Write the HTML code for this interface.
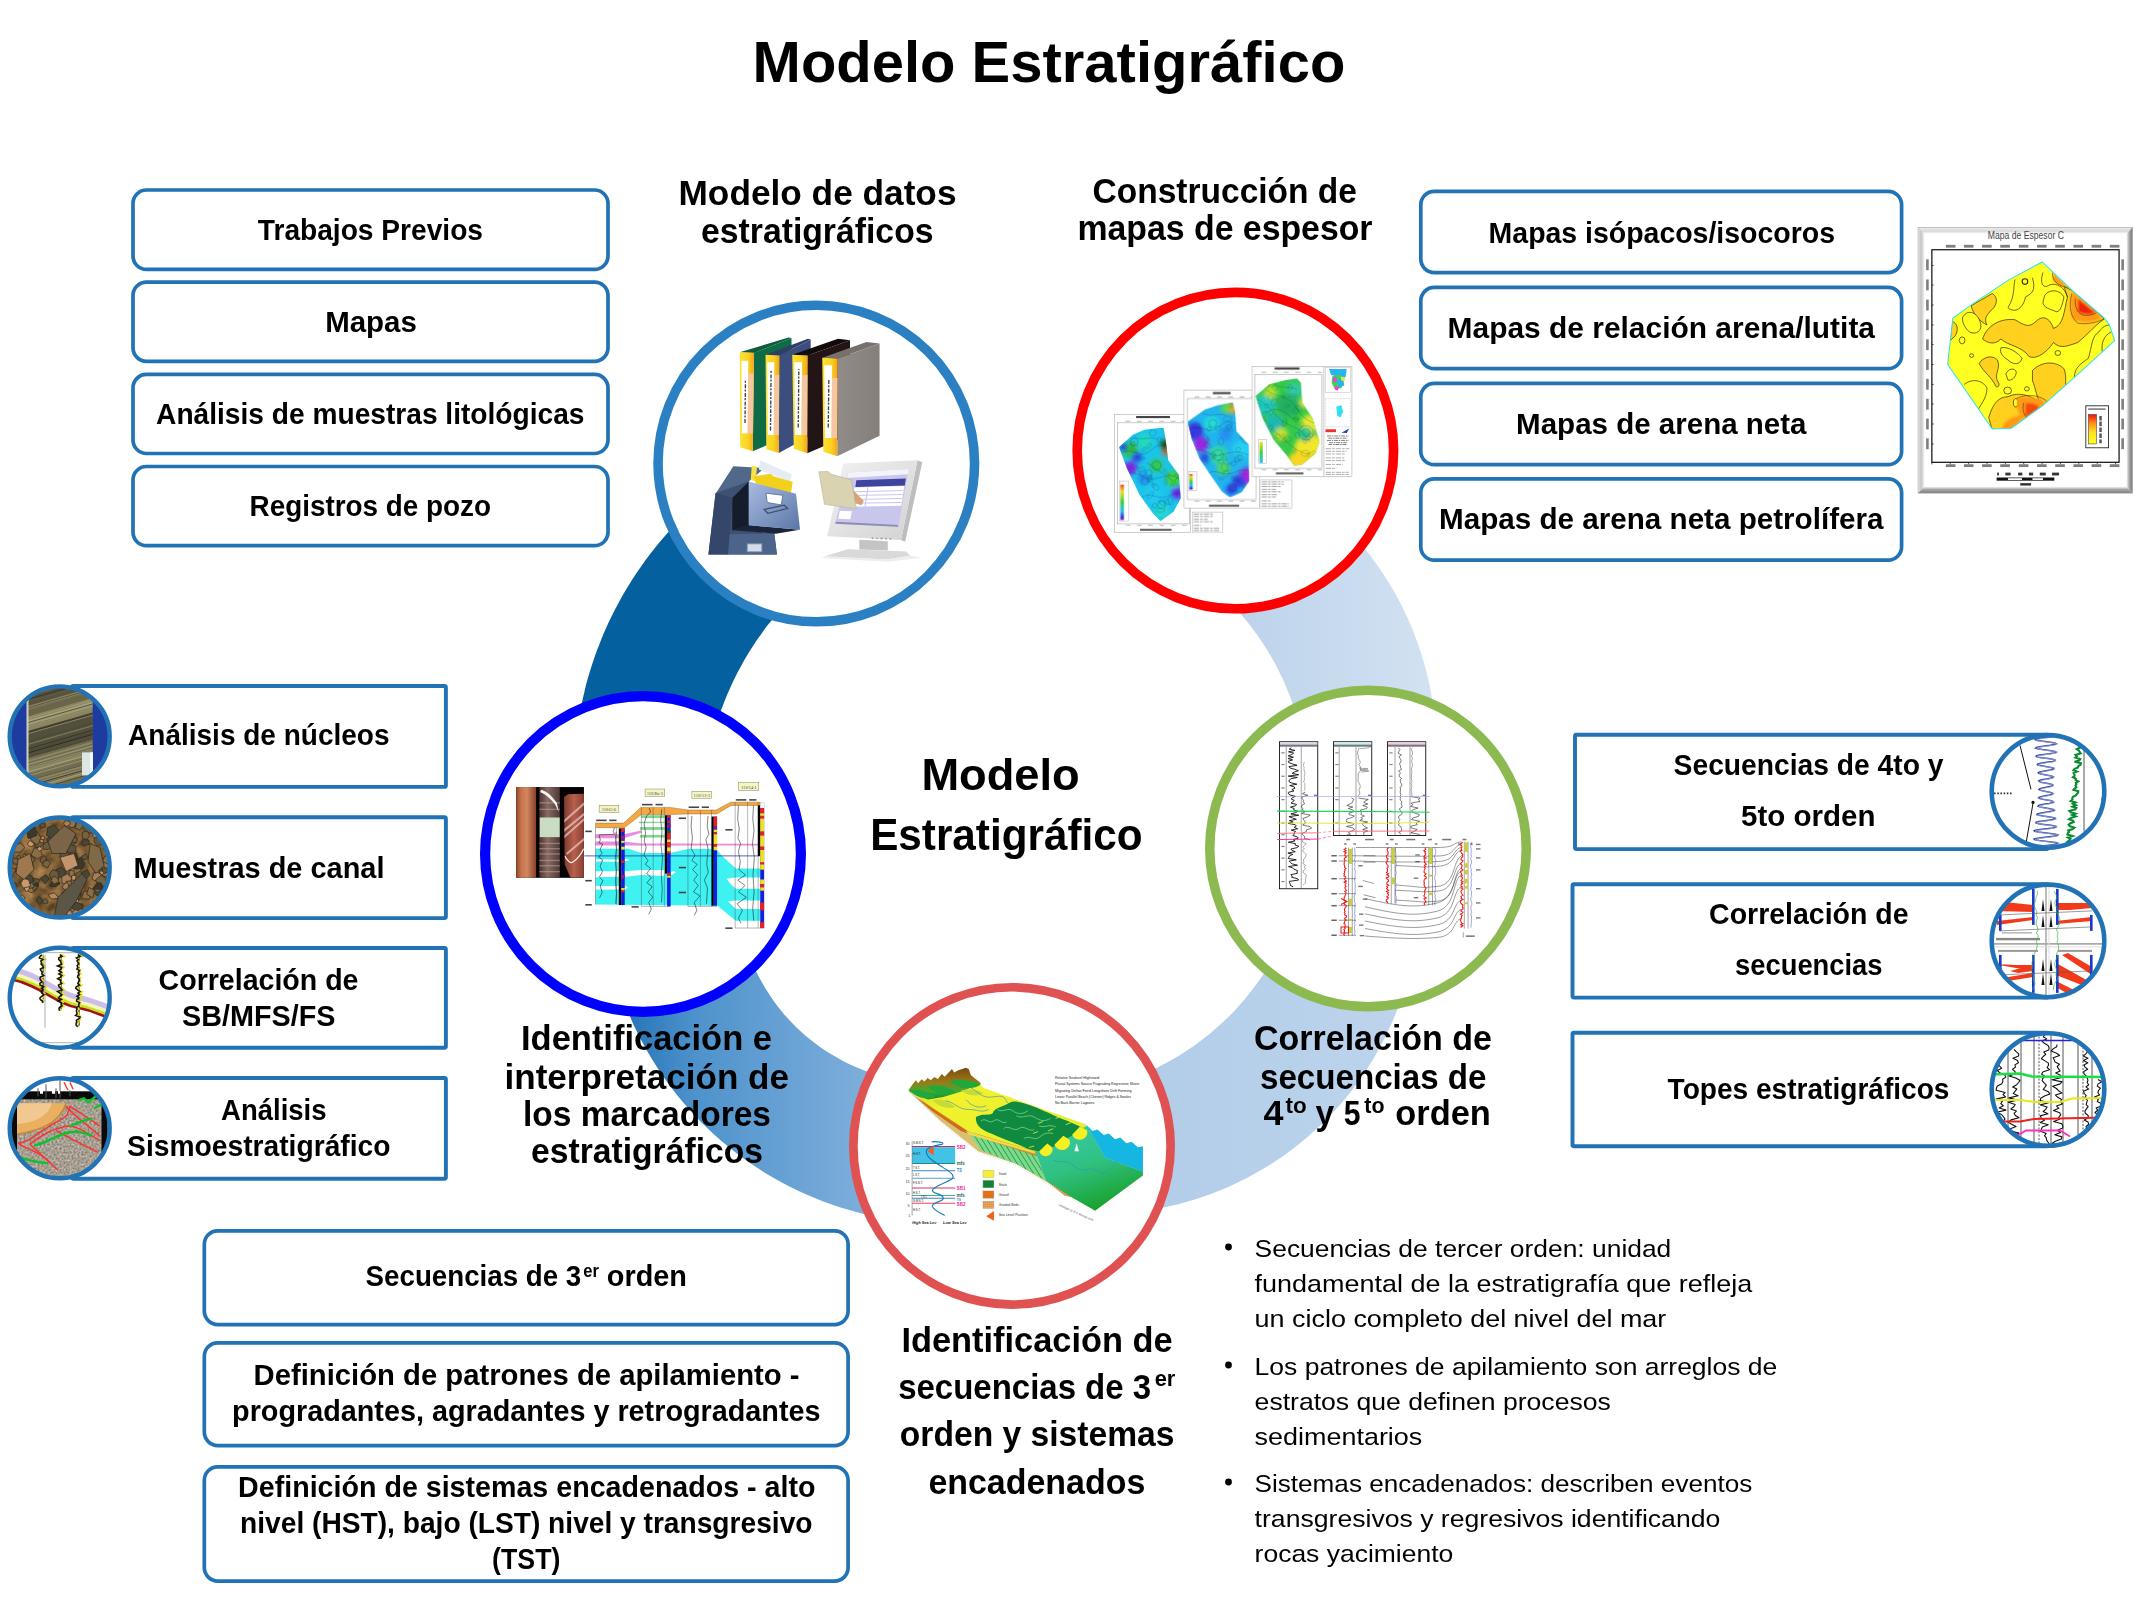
<!DOCTYPE html>
<html lang="es"><head><meta charset="utf-8"><title>Modelo Estratigráfico</title>
<style>
html,body{margin:0;padding:0;background:#fff;}
body{width:2135px;height:1600px;overflow:hidden;font-family:"Liberation Sans",sans-serif;}
svg{display:block;font-family:"Liberation Sans",sans-serif;}
</style></head><body>
<svg width="2135" height="1600" viewBox="0 0 2135 1600">
<defs>
<linearGradient id="g2" gradientUnits="userSpaceOnUse" x1="596" y1="0" x2="880" y2="0"><stop offset="0" stop-color="#1467AE"/><stop offset="0.35" stop-color="#4E92CC"/><stop offset="1" stop-color="#82B1DC"/></linearGradient>
<linearGradient id="g3" gradientUnits="userSpaceOnUse" x1="1140" y1="0" x2="1420" y2="0"><stop offset="0" stop-color="#B2CDE9"/><stop offset="1" stop-color="#BDD4EC"/></linearGradient>
<linearGradient id="g4" gradientUnits="userSpaceOnUse" x1="1240" y1="0" x2="1440" y2="0"><stop offset="0" stop-color="#BDD3EB"/><stop offset="1" stop-color="#D3E2F2"/></linearGradient>
</defs>
<rect width="2135" height="1600" fill="#fff"/>

<path d="M685.5,514.2 L681.2,518.5 L677.0,522.8 L672.8,527.2 L668.7,531.7 L664.7,536.2 L660.8,540.8 L656.9,545.5 L653.1,550.2 L649.4,555.0 L645.8,559.8 L642.3,564.7 L638.8,569.7 L635.4,574.7 L632.1,579.8 L628.9,584.9 L625.8,590.1 L622.7,595.3 L619.8,600.6 L616.9,605.9 L614.1,611.2 L611.4,616.7 L608.8,622.1 L606.3,627.6 L603.8,633.2 L601.5,638.7 L599.3,644.4 L597.1,650.0 L595.0,655.7 L593.1,661.4 L591.2,667.2 L589.4,673.0 L587.7,678.8 L586.1,684.6 L584.7,690.5 L583.3,696.4 L582.0,702.3 L580.8,708.2 L579.7,714.2 L578.6,720.1 L577.7,726.1 L714.8,729.8 L715.8,726.4 L716.9,722.9 L718.0,719.4 L719.1,716.0 L720.3,712.6 L721.5,709.1 L722.8,705.7 L724.1,702.3 L725.4,699.0 L726.8,695.6 L728.2,692.3 L729.7,688.9 L731.2,685.6 L732.7,682.3 L734.3,679.1 L735.9,675.8 L737.5,672.6 L739.2,669.4 L741.0,666.2 L742.7,663.0 L744.5,659.8 L746.3,656.7 L748.2,653.6 L750.1,650.5 L752.0,647.4 L754.0,644.4 L756.0,641.3 L758.1,638.3 L760.2,635.4 L762.3,632.4 L764.4,629.5 L766.6,626.6 L768.8,623.7 L771.1,620.9 L773.3,618.0 L775.7,615.2 L778.0,612.5 L780.4,609.7 L782.8,607.0 L785.2,604.3 Z" fill="#04609E"/>
<path d="M620.5,992.0 L623.6,1000.6 L626.9,1009.1 L630.4,1017.5 L634.1,1025.9 L638.1,1034.1 L642.3,1042.2 L646.7,1050.2 L651.3,1058.1 L656.1,1065.8 L661.1,1073.4 L666.4,1080.9 L671.8,1088.2 L677.4,1095.4 L683.2,1102.5 L689.2,1109.4 L695.3,1116.1 L701.7,1122.7 L708.2,1129.0 L714.9,1135.2 L721.7,1141.3 L728.7,1147.1 L735.9,1152.8 L743.2,1158.2 L750.7,1163.5 L758.3,1168.6 L766.0,1173.4 L773.8,1178.1 L781.8,1182.5 L789.9,1186.8 L798.1,1190.8 L806.4,1194.6 L814.8,1198.1 L823.3,1201.5 L831.8,1204.6 L840.5,1207.5 L849.2,1210.1 L858.0,1212.6 L866.9,1214.8 L875.8,1216.7 L884.7,1218.4 L879.2,1075.4 L874.9,1074.1 L870.7,1072.7 L866.5,1071.3 L862.3,1069.7 L858.2,1068.0 L854.1,1066.3 L850.0,1064.4 L846.0,1062.5 L842.1,1060.5 L838.2,1058.3 L834.3,1056.1 L830.5,1053.8 L826.7,1051.5 L823.0,1049.0 L819.3,1046.5 L815.7,1043.8 L812.2,1041.1 L808.7,1038.3 L805.3,1035.5 L802.0,1032.5 L798.7,1029.5 L795.5,1026.4 L792.4,1023.3 L789.3,1020.0 L786.3,1016.7 L783.4,1013.4 L780.6,1009.9 L777.8,1006.4 L775.1,1002.9 L772.5,999.2 L770.0,995.6 L767.6,991.8 L765.2,988.1 L763.0,984.2 L760.8,980.3 L758.7,976.4 L756.7,972.4 L754.8,968.4 L753.0,964.3 L751.3,960.2 Z" fill="url(#g2)"/>
<path d="M1140.8,1211.3 L1150.0,1210.0 L1159.0,1208.4 L1168.1,1206.5 L1177.1,1204.4 L1186.0,1202.1 L1194.8,1199.4 L1203.6,1196.6 L1212.3,1193.4 L1220.9,1190.1 L1229.4,1186.4 L1237.7,1182.6 L1246.0,1178.5 L1254.1,1174.1 L1262.1,1169.5 L1270.0,1164.7 L1277.7,1159.7 L1285.3,1154.4 L1292.7,1148.9 L1300.0,1143.2 L1307.1,1137.3 L1314.0,1131.2 L1320.8,1124.9 L1327.3,1118.4 L1333.7,1111.8 L1339.9,1104.9 L1345.8,1097.9 L1351.6,1090.7 L1357.1,1083.3 L1362.5,1075.8 L1367.6,1068.1 L1372.5,1060.2 L1377.1,1052.3 L1381.6,1044.2 L1385.7,1036.0 L1389.7,1027.6 L1393.4,1019.2 L1396.9,1010.6 L1400.1,1002.0 L1403.0,993.2 L1405.7,984.4 L1272.9,958.7 L1270.6,962.6 L1268.3,966.5 L1265.9,970.4 L1263.4,974.2 L1260.8,978.0 L1258.2,981.7 L1255.6,985.4 L1252.8,989.0 L1250.0,992.6 L1247.2,996.2 L1244.3,999.7 L1241.3,1003.1 L1238.3,1006.5 L1235.2,1009.9 L1232.1,1013.2 L1228.9,1016.4 L1225.6,1019.6 L1222.3,1022.7 L1219.0,1025.8 L1215.5,1028.8 L1212.1,1031.8 L1208.6,1034.7 L1205.0,1037.5 L1201.4,1040.3 L1197.8,1043.0 L1194.1,1045.7 L1190.3,1048.3 L1186.6,1050.8 L1182.7,1053.3 L1178.9,1055.7 L1175.0,1058.0 L1171.0,1060.3 L1167.0,1062.5 L1163.0,1064.6 L1158.9,1066.7 L1154.9,1068.7 L1150.7,1070.6 L1146.6,1072.4 L1142.4,1074.2 L1138.2,1075.9 Z" fill="url(#g3)"/>
<path d="M1434.6,718.8 L1434.1,713.7 L1433.5,708.5 L1432.7,703.4 L1431.9,698.4 L1431.1,693.3 L1430.1,688.2 L1429.1,683.2 L1427.9,678.1 L1426.7,673.1 L1425.5,668.1 L1424.1,663.2 L1422.7,658.2 L1421.1,653.3 L1419.5,648.4 L1417.9,643.5 L1416.1,638.7 L1414.3,633.9 L1412.4,629.1 L1410.4,624.3 L1408.3,619.6 L1406.2,614.9 L1403.9,610.3 L1401.7,605.6 L1399.3,601.1 L1396.9,596.5 L1394.3,592.0 L1391.8,587.6 L1389.1,583.1 L1386.4,578.8 L1383.6,574.4 L1380.7,570.1 L1377.8,565.9 L1374.8,561.7 L1371.7,557.6 L1368.6,553.5 L1365.4,549.4 L1362.1,545.4 L1358.8,541.5 L1355.4,537.6 L1352.0,533.8 L1229.0,601.4 L1231.4,603.9 L1233.8,606.4 L1236.2,608.9 L1238.5,611.5 L1240.8,614.1 L1243.0,616.8 L1245.3,619.4 L1247.5,622.1 L1249.6,624.8 L1251.7,627.6 L1253.8,630.4 L1255.9,633.2 L1257.9,636.0 L1259.9,638.9 L1261.8,641.7 L1263.7,644.6 L1265.6,647.6 L1267.4,650.5 L1269.2,653.5 L1271.0,656.5 L1272.7,659.5 L1274.4,662.5 L1276.0,665.6 L1277.6,668.7 L1279.2,671.8 L1280.7,674.9 L1282.2,678.0 L1283.7,681.2 L1285.1,684.4 L1286.4,687.6 L1287.7,690.8 L1289.0,694.0 L1290.3,697.3 L1291.5,700.5 L1292.6,703.8 L1293.8,707.1 L1294.8,710.4 L1295.9,713.7 L1296.9,717.0 L1297.8,720.4 Z" fill="url(#g4)"/>
<circle cx="816.3" cy="463.6" r="158.25" fill="#fff" stroke="#2A80C2" stroke-width="9.5"/>
<circle cx="1235.4" cy="450.6" r="158.20" fill="#fff" stroke="#FE0000" stroke-width="9.6"/>
<circle cx="643" cy="854" r="157.90" fill="#fff" stroke="#0000FF" stroke-width="10.2"/>
<circle cx="1368" cy="848.5" r="158.25" fill="#fff" stroke="#8CB950" stroke-width="9.5"/>
<circle cx="1012" cy="1145.9" r="158.65" fill="#fff" stroke="#E05252" stroke-width="8.7"/>
<g transform="translate(700,330) scale(0.15)">
<defs>
<linearGradient id="tlDr" x1="0" y1="0" x2="1" y2="1"><stop offset="0" stop-color="#A9BCE0"/><stop offset="1" stop-color="#5A76A8"/></linearGradient>
<linearGradient id="tlGr" x1="0" y1="0" x2="1" y2="0"><stop offset="0" stop-color="#918C88"/><stop offset="1" stop-color="#857F7C"/></linearGradient>
<linearGradient id="tlSp" x1="0" y1="0" x2="1" y2="0"><stop offset="0" stop-color="#FBE23A"/><stop offset="0.6" stop-color="#F9D21E"/><stop offset="1" stop-color="#F4A21F"/></linearGradient>
<linearGradient id="tlMon" x1="0" y1="0" x2="1" y2="1"><stop offset="0" stop-color="#F2F2F2"/><stop offset="1" stop-color="#D2D2D2"/></linearGradient>
</defs>
<!-- binder 1 green -->
<polygon points="265,148 590,50 610,54 360,153" fill="#0E5C3A"/>
<polygon points="360,152 610,54 610,700 352,808" fill="#0F6B45"/>
<polygon points="265,148 360,152 352,808 268,782" fill="url(#tlSp)"/>
<polygon points="276,205 322,205 318,690 280,690" fill="#fff"/>
<polygon points="322,290 356,290 352,690 318,690" fill="#F4C7A2"/>
<!-- binder 2 blue -->
<polygon points="437,165 720,58 738,64 530,170" fill="#2F3E66"/>
<polygon points="530,170 738,64 738,705 525,820" fill="#3C4E7E"/>
<polygon points="437,165 530,170 525,820 442,795" fill="url(#tlSp)"/>
<polygon points="448,215 495,215 492,700 452,700" fill="#fff"/>
<polygon points="495,300 528,300 525,700 492,700" fill="#F4C7A2"/>
<!-- binder 3 black -->
<polygon points="615,165 920,58 1000,68 718,170" fill="#120B0C"/>
<polygon points="718,170 1000,68 1000,700 715,822" fill="#231416"/>
<polygon points="615,165 718,170 715,822 625,792" fill="url(#tlSp)"/>
<polygon points="628,215 680,215 677,700 634,700" fill="#fff"/>
<polygon points="680,300 716,300 713,700 677,700" fill="#F4C7A2"/>
<!-- binder 4 gray -->
<polygon points="815,185 1110,80 1197,90 918,190" fill="#77716E"/>
<polygon points="918,190 1197,90 1197,705 915,842" fill="url(#tlGr)"/>
<polygon points="815,185 918,190 915,842 822,812" fill="url(#tlSp)"/>
<polygon points="828,235 880,235 877,720 834,720" fill="#fff"/>
<polygon points="880,320 916,320 913,720 877,720" fill="#F4C7A2"/>
<!-- spine text (illegible script) -->
<g stroke="#222" stroke-width="9" stroke-dasharray="26 10 14 8" fill="none" opacity="0.85">
<line x1="300" y1="620" x2="303" y2="330"/><line x1="470" y1="670" x2="474" y2="270"/><line x1="655" y1="650" x2="659" y2="260"/><line x1="855" y1="650" x2="859" y2="330"/>
</g>
<!-- cabinet -->
<polygon points="105,1090 222,908 430,920 325,1010" fill="#526889"/>
<polygon points="56,1497 104,1086 326,1006 326,1340 495,1355 513,1497" fill="#3D5173"/>
<polygon points="215,1120 325,1010 325,1305 215,1335" fill="#151C2C"/>
<polygon points="187,1362 495,1355 513,1497 180,1497" fill="#4C638A"/>
<polygon points="56,1497 104,1086 217,1118 187,1497" fill="#34476A"/>
<rect x="315" y="1426" width="97" height="52" fill="#D4DCEA" stroke="#8A9BB8" stroke-width="6"/>
<!-- papers/folders -->
<polygon points="400,868 612,962 600,1010 392,930" fill="#E6ECF4"/>
<polygon points="345,905 380,912 372,1010 338,1000" fill="#F7E04A"/>
<polygon points="358,975 470,958 490,975 618,1012 606,1095 372,1022" fill="#F1D11C"/>
<!-- open drawer -->
<polygon points="215,1335 325,1300 665,1332 505,1358" fill="#1B2438"/>
<polygon points="325,1010 640,1092 667,1332 325,1302" fill="url(#tlDr)"/>
<polygon points="440,1088 552,1102 542,1166 448,1150" fill="#fff" stroke="#5F7299" stroke-width="6"/>
<polygon points="428,1196 562,1168 584,1190 452,1222" fill="none" stroke="#3E4F70" stroke-width="9"/>
<!-- monitor -->
<polygon points="1450,868 1482,882 1368,1412 1340,1400" fill="#BEBEBE"/>
<polygon points="955,890 1450,868 1340,1400 848,1375" fill="url(#tlMon)"/>
<polygon points="985,950 1392,926 1322,1312 902,1292" fill="#C9C6EE"/>
<polygon points="985,950 1392,926 1387,962 980,986" fill="#F3F3FA"/>
<polygon points="1042,1002 1372,990 1366,1036 1036,1046" fill="#3E43A0"/>
<polygon points="1030,1050 1362,1040 1342,1172 1012,1178" fill="#fff"/>
<g stroke="#C9C6EE" stroke-width="7"><line x1="1030" y1="1078" x2="1356" y2="1070"/><line x1="1026" y1="1104" x2="1352" y2="1097"/><line x1="1022" y1="1130" x2="1348" y2="1124"/><line x1="1018" y1="1155" x2="1344" y2="1150"/><line x1="1120" y1="1048" x2="1100" y2="1176"/></g>
<polygon points="932,1205 1012,1208 1002,1262 922,1258" fill="#fff"/>
<polygon points="905,1278 1322,1300 1320,1312 902,1292" fill="#8E8CB0"/>
<!-- folder + hand -->
<polygon points="985,1078 1022,1068 1092,1140 1076,1168 1028,1152" fill="#D7A17A"/>
<polygon points="792,945 856,944 872,960 1010,1000 1042,1192 830,1162" fill="#D9D3B2" stroke="#B9B392" stroke-width="4"/>
<!-- buttons -->
<g fill="#9A9A9A"><circle cx="1150" cy="1388" r="6"/><circle cx="1180" cy="1389" r="6"/><circle cx="1210" cy="1390" r="7"/><circle cx="1240" cy="1391" r="6"/><circle cx="1270" cy="1392" r="6"/></g>
<!-- stand -->
<polygon points="1062,1398 1252,1408 1252,1470 1062,1464" fill="#C4C4C4"/>
<polygon points="985,1462 1375,1476 1400,1505 1240,1530 830,1508" fill="#D9D9D9"/>
<polygon points="830,1508 1240,1530 1400,1505 1480,1518 1250,1545 815,1520" fill="#EDEDED"/>
</g>

<g transform="translate(1100,350) scale(0.13125)">
<defs>
<filter id="trB" x="-20%" y="-20%" width="140%" height="140%"><feGaussianBlur stdDeviation="18"/></filter>
<linearGradient id="trRain" x1="0" y1="0" x2="0" y2="1"><stop offset="0" stop-color="#F0401A"/><stop offset="0.2" stop-color="#F0E020"/><stop offset="0.5" stop-color="#30D040"/><stop offset="0.75" stop-color="#20C0F0"/><stop offset="0.92" stop-color="#3030E0"/><stop offset="1" stop-color="#A020D0"/></linearGradient>
<linearGradient id="trRain2" x1="0" y1="0" x2="0" y2="1"><stop offset="0" stop-color="#F0E020"/><stop offset="0.5" stop-color="#40D040"/><stop offset="1" stop-color="#20C8F0"/></linearGradient>
<clipPath id="trC1"><path d="M145,740 L250,645 L340,608 L482,590 L497,660 L520,840 L600,950 L616,1130 L560,1232 L460,1302 L400,1240 L300,1100 L205,900 Z"/></clipPath>
<clipPath id="trC2"><path d="M668,545 L800,452 L900,420 L1012,400 L1030,480 L1040,620 L1132,720 L1136,1000 L1080,1082 L990,1122 L930,1080 L840,950 L760,830 L700,680 Z"/></clipPath>
<clipPath id="trC3"><path d="M1185,350 L1290,262 L1400,232 L1500,215 L1530,250 L1540,400 L1620,520 L1672,700 L1640,790 L1540,872 L1480,882 L1420,800 L1320,680 L1240,520 Z"/></clipPath>
</defs>
<!-- sheet 1 -->
<rect x="110" y="490" width="580" height="900" fill="#fff" stroke="#B5B5B5" stroke-width="5"/>
<rect x="135" y="555" width="545" height="770" fill="#fff" stroke="#999" stroke-width="4"/>
<rect x="275" y="503" width="258" height="16" fill="#444"/>
<g stroke="#BBB" stroke-width="8" stroke-dasharray="36 50"><line x1="195" y1="543" x2="680" y2="543"/><line x1="195" y1="1336" x2="680" y2="1336"/></g>
<rect x="305" y="1362" width="240" height="16" fill="#666"/>
<g clip-path="url(#trC1)"><rect x="120" y="570" width="520" height="760" fill="#1CC4EA"/>
<g filter="url(#trB)"><circle cx="230" cy="760" r="60" fill="#30C040"/><circle cx="500" cy="720" r="40" fill="#205010"/><circle cx="500" cy="780" r="26" fill="#E06020"/><circle cx="230" cy="900" r="50" fill="#8020E0"/><circle cx="280" cy="820" r="40" fill="#2850E0"/><circle cx="560" cy="980" r="60" fill="#40D040"/><circle cx="430" cy="880" r="50" fill="#30C850"/><circle cx="590" cy="1090" r="45" fill="#7020E0"/><circle cx="340" cy="700" r="60" fill="#20D8C0"/><circle cx="400" cy="1100" r="70" fill="#20C8F0"/><circle cx="470" cy="1230" r="60" fill="#20D8D0"/><circle cx="330" cy="980" r="45" fill="#2090F0"/><circle cx="180" cy="740" r="30" fill="#2040D0"/></g>
<g fill="none" stroke="#062A50" stroke-width="2.5" opacity="0.55"><ellipse cx="226" cy="1076" rx="25" ry="17" transform="rotate(39 226 1076)"/><ellipse cx="515" cy="1157" rx="22" ry="17" transform="rotate(42 515 1157)"/><ellipse cx="151" cy="856" rx="24" ry="9" transform="rotate(143 151 856)"/><ellipse cx="257" cy="761" rx="11" ry="26" transform="rotate(133 257 761)"/><ellipse cx="553" cy="1025" rx="11" ry="14" transform="rotate(90 553 1025)"/><ellipse cx="203" cy="1257" rx="19" ry="11" transform="rotate(147 203 1257)"/><ellipse cx="207" cy="1240" rx="21" ry="18" transform="rotate(62 207 1240)"/><ellipse cx="373" cy="729" rx="11" ry="24" transform="rotate(42 373 729)"/><ellipse cx="509" cy="744" rx="33" ry="24" transform="rotate(136 509 744)"/><ellipse cx="501" cy="1001" rx="28" ry="10" transform="rotate(86 501 1001)"/><ellipse cx="530" cy="739" rx="32" ry="24" transform="rotate(74 530 739)"/><ellipse cx="318" cy="911" rx="19" ry="26" transform="rotate(70 318 911)"/><ellipse cx="162" cy="664" rx="27" ry="26" transform="rotate(89 162 664)"/><ellipse cx="376" cy="980" rx="28" ry="12" transform="rotate(110 376 980)"/><ellipse cx="406" cy="1030" rx="14" ry="11" transform="rotate(63 406 1030)"/><ellipse cx="576" cy="839" rx="24" ry="14" transform="rotate(19 576 839)"/><ellipse cx="180" cy="1161" rx="29" ry="15" transform="rotate(123 180 1161)"/><ellipse cx="461" cy="1220" rx="33" ry="15" transform="rotate(178 461 1220)"/><ellipse cx="592" cy="1007" rx="31" ry="17" transform="rotate(68 592 1007)"/><ellipse cx="264" cy="1205" rx="14" ry="9" transform="rotate(145 264 1205)"/><ellipse cx="506" cy="933" rx="30" ry="9" transform="rotate(46 506 933)"/><ellipse cx="283" cy="889" rx="14" ry="9" transform="rotate(61 283 889)"/><ellipse cx="564" cy="1279" rx="28" ry="17" transform="rotate(45 564 1279)"/><ellipse cx="591" cy="963" rx="27" ry="9" transform="rotate(38 591 963)"/><ellipse cx="536" cy="1149" rx="31" ry="19" transform="rotate(77 536 1149)"/><ellipse cx="417" cy="1186" rx="17" ry="18" transform="rotate(50 417 1186)"/><ellipse cx="503" cy="607" rx="26" ry="25" transform="rotate(4 503 607)"/><ellipse cx="423" cy="1044" rx="30" ry="19" transform="rotate(46 423 1044)"/><ellipse cx="337" cy="1262" rx="32" ry="10" transform="rotate(17 337 1262)"/><ellipse cx="193" cy="617" rx="21" ry="11" transform="rotate(156 193 617)"/><ellipse cx="451" cy="687" rx="23" ry="14" transform="rotate(89 451 687)"/><ellipse cx="251" cy="715" rx="14" ry="15" transform="rotate(128 251 715)"/><ellipse cx="403" cy="632" rx="27" ry="24" transform="rotate(139 403 632)"/><ellipse cx="514" cy="605" rx="21" ry="9" transform="rotate(138 514 605)"/><ellipse cx="231" cy="1091" rx="16" ry="21" transform="rotate(56 231 1091)"/><ellipse cx="169" cy="868" rx="17" ry="24" transform="rotate(53 169 868)"/><ellipse cx="381" cy="979" rx="33" ry="10" transform="rotate(108 381 979)"/><ellipse cx="384" cy="1107" rx="33" ry="14" transform="rotate(126 384 1107)"/><ellipse cx="392" cy="987" rx="12" ry="23" transform="rotate(176 392 987)"/><ellipse cx="313" cy="819" rx="34" ry="10" transform="rotate(14 313 819)"/><ellipse cx="184" cy="1162" rx="28" ry="16" transform="rotate(112 184 1162)"/><ellipse cx="159" cy="1045" rx="21" ry="17" transform="rotate(70 159 1045)"/><ellipse cx="335" cy="756" rx="11" ry="16" transform="rotate(44 335 756)"/><ellipse cx="474" cy="1164" rx="27" ry="16" transform="rotate(43 474 1164)"/><ellipse cx="327" cy="936" rx="25" ry="25" transform="rotate(15 327 936)"/><ellipse cx="371" cy="939" rx="27" ry="24" transform="rotate(140 371 939)"/></g><g fill="none" stroke="#062A50" stroke-width="3" opacity="0.6"><path d="M170,780 C240,740 300,820 360,780 S460,700 500,740"/><path d="M220,940 C300,920 340,1000 420,980 S540,940 610,980"/><path d="M320,1120 C380,1080 440,1140 500,1120 S580,1080 610,1100"/><circle cx="430" cy="880" r="34"/><circle cx="340" cy="1000" r="26"/><circle cx="260" cy="700" r="30"/><path d="M360,860 C420,900 480,940 560,1000"/><path d="M260,660 C320,700 380,650 440,680"/><circle cx="470" cy="1180" r="30"/></g></g>
<rect x="148" y="1000" width="68" height="305" fill="#fff" stroke="#999" stroke-width="3"/><rect x="156" y="1025" width="26" height="270" fill="url(#trRain)"/>
<!-- tb1 -->
<rect x="705" y="1235" width="230" height="155" fill="#fff" stroke="#AAA" stroke-width="4"/>
<g stroke="#888" stroke-width="6" stroke-dasharray="40 8 20 8"><line x1="715" y1="1250" x2="860" y2="1250"/><line x1="715" y1="1268" x2="860" y2="1268"/><line x1="715" y1="1290" x2="820" y2="1290"/><line x1="715" y1="1308" x2="860" y2="1308"/><line x1="715" y1="1336" x2="770" y2="1336"/><line x1="715" y1="1358" x2="910" y2="1358"/><line x1="715" y1="1375" x2="910" y2="1375"/></g>
<!-- sheet 2 -->
<rect x="640" y="305" width="575" height="900" fill="#fff" stroke="#B5B5B5" stroke-width="5"/>
<rect x="665" y="370" width="525" height="770" fill="#fff" stroke="#999" stroke-width="4"/>
<rect x="860" y="320" width="135" height="16" fill="#444"/>
<g stroke="#BBB" stroke-width="8" stroke-dasharray="36 50"><line x1="720" y1="358" x2="1190" y2="358"/><line x1="720" y1="1152" x2="1190" y2="1152"/></g>
<rect x="830" y="1178" width="230" height="16" fill="#666"/>
<g clip-path="url(#trC2)"><rect x="640" y="380" width="520" height="760" fill="#22B4EE"/>
<g filter="url(#trB)"><circle cx="720" cy="620" r="70" fill="#3838E0"/><circle cx="770" cy="720" r="55" fill="#A020E0"/><circle cx="1010" cy="440" r="45" fill="#F0A020"/><circle cx="960" cy="440" r="40" fill="#60D840"/><circle cx="1120" cy="960" r="60" fill="#B020E0"/><circle cx="1060" cy="1000" r="50" fill="#3040E0"/><circle cx="900" cy="800" r="70" fill="#30D8A0"/><circle cx="940" cy="900" r="50" fill="#50D860"/><circle cx="850" cy="560" r="60" fill="#25D8D8"/><circle cx="1000" cy="1060" r="40" fill="#3038E0"/><circle cx="1080" cy="760" r="70" fill="#28D0F0"/><circle cx="800" cy="820" r="40" fill="#2850E0"/><circle cx="960" cy="640" r="50" fill="#2890F0"/></g>
<g fill="none" stroke="#062A50" stroke-width="2.5" opacity="0.55"><ellipse cx="962" cy="941" rx="26" ry="23" transform="rotate(126 962 941)"/><ellipse cx="987" cy="582" rx="32" ry="15" transform="rotate(111 987 582)"/><ellipse cx="1051" cy="1085" rx="34" ry="8" transform="rotate(56 1051 1085)"/><ellipse cx="820" cy="684" rx="13" ry="18" transform="rotate(14 820 684)"/><ellipse cx="816" cy="1070" rx="28" ry="16" transform="rotate(19 816 1070)"/><ellipse cx="1110" cy="903" rx="15" ry="14" transform="rotate(115 1110 903)"/><ellipse cx="987" cy="593" rx="33" ry="14" transform="rotate(46 987 593)"/><ellipse cx="1060" cy="517" rx="26" ry="12" transform="rotate(108 1060 517)"/><ellipse cx="805" cy="675" rx="33" ry="16" transform="rotate(79 805 675)"/><ellipse cx="958" cy="606" rx="14" ry="15" transform="rotate(49 958 606)"/><ellipse cx="765" cy="1083" rx="11" ry="23" transform="rotate(168 765 1083)"/><ellipse cx="997" cy="423" rx="22" ry="9" transform="rotate(109 997 423)"/><ellipse cx="995" cy="578" rx="10" ry="18" transform="rotate(17 995 578)"/><ellipse cx="819" cy="728" rx="31" ry="15" transform="rotate(24 819 728)"/><ellipse cx="1036" cy="986" rx="23" ry="9" transform="rotate(34 1036 986)"/><ellipse cx="861" cy="796" rx="15" ry="22" transform="rotate(152 861 796)"/><ellipse cx="1096" cy="1028" rx="10" ry="18" transform="rotate(14 1096 1028)"/><ellipse cx="1085" cy="933" rx="28" ry="11" transform="rotate(11 1085 933)"/><ellipse cx="1047" cy="835" rx="25" ry="16" transform="rotate(144 1047 835)"/><ellipse cx="832" cy="599" rx="18" ry="13" transform="rotate(113 832 599)"/><ellipse cx="1081" cy="460" rx="12" ry="17" transform="rotate(122 1081 460)"/><ellipse cx="765" cy="599" rx="11" ry="9" transform="rotate(89 765 599)"/><ellipse cx="986" cy="867" rx="14" ry="10" transform="rotate(168 986 867)"/><ellipse cx="922" cy="696" rx="27" ry="21" transform="rotate(94 922 696)"/><ellipse cx="715" cy="989" rx="15" ry="9" transform="rotate(63 715 989)"/><ellipse cx="920" cy="850" rx="14" ry="21" transform="rotate(89 920 850)"/><ellipse cx="753" cy="1006" rx="29" ry="24" transform="rotate(122 753 1006)"/><ellipse cx="778" cy="954" rx="32" ry="18" transform="rotate(164 778 954)"/><ellipse cx="1117" cy="683" rx="33" ry="25" transform="rotate(143 1117 683)"/><ellipse cx="685" cy="656" rx="25" ry="19" transform="rotate(136 685 656)"/><ellipse cx="971" cy="523" rx="32" ry="18" transform="rotate(159 971 523)"/><ellipse cx="773" cy="1109" rx="23" ry="22" transform="rotate(133 773 1109)"/><ellipse cx="1077" cy="664" rx="12" ry="15" transform="rotate(32 1077 664)"/><ellipse cx="923" cy="980" rx="19" ry="10" transform="rotate(5 923 980)"/><ellipse cx="870" cy="816" rx="11" ry="20" transform="rotate(38 870 816)"/><ellipse cx="728" cy="1059" rx="23" ry="24" transform="rotate(93 728 1059)"/><ellipse cx="735" cy="578" rx="20" ry="20" transform="rotate(139 735 578)"/><ellipse cx="1018" cy="866" rx="16" ry="16" transform="rotate(68 1018 866)"/><ellipse cx="900" cy="596" rx="23" ry="16" transform="rotate(6 900 596)"/><ellipse cx="1050" cy="821" rx="29" ry="21" transform="rotate(132 1050 821)"/><ellipse cx="1127" cy="674" rx="19" ry="8" transform="rotate(120 1127 674)"/><ellipse cx="942" cy="814" rx="34" ry="12" transform="rotate(41 942 814)"/><ellipse cx="1010" cy="979" rx="22" ry="9" transform="rotate(67 1010 979)"/><ellipse cx="1052" cy="760" rx="21" ry="15" transform="rotate(113 1052 760)"/><ellipse cx="949" cy="895" rx="31" ry="22" transform="rotate(67 949 895)"/><ellipse cx="793" cy="957" rx="29" ry="25" transform="rotate(36 793 957)"/></g><g fill="none" stroke="#062A50" stroke-width="3" opacity="0.55"><path d="M690,600 C760,560 820,640 880,600 S980,520 1030,560"/><path d="M720,760 C800,740 840,820 920,800 S1040,760 1130,800"/><path d="M820,940 C880,900 940,960 1000,940 S1080,900 1130,920"/><circle cx="900" cy="800" r="40"/><circle cx="1010" cy="1050" r="28"/><circle cx="1070" cy="820" r="22"/><circle cx="860" cy="560" r="30"/><path d="M780,480 C840,520 900,470 960,500"/></g></g>
<rect x="675" y="925" width="62" height="145" fill="#fff" stroke="#999" stroke-width="3"/><rect x="682" y="945" width="24" height="118" fill="url(#trRain)"/>
<!-- tb2 -->
<rect x="1220" y="990" width="240" height="215" fill="#fff" stroke="#AAA" stroke-width="4"/>
<g stroke="#888" stroke-width="6" stroke-dasharray="40 8 20 8"><line x1="1232" y1="1005" x2="1400" y2="1005"/><line x1="1232" y1="1022" x2="1400" y2="1022"/><line x1="1232" y1="1040" x2="1380" y2="1040"/><line x1="1232" y1="1062" x2="1340" y2="1062"/><line x1="1232" y1="1080" x2="1380" y2="1080"/><line x1="1232" y1="1102" x2="1350" y2="1102"/><line x1="1232" y1="1120" x2="1340" y2="1120"/><line x1="1232" y1="1150" x2="1300" y2="1150"/><line x1="1232" y1="1172" x2="1440" y2="1172"/><line x1="1232" y1="1190" x2="1440" y2="1190"/></g>
<!-- sheet 3 -->
<rect x="1160" y="125" width="760" height="840" fill="#fff" stroke="#B5B5B5" stroke-width="5"/>
<rect x="1180" y="185" width="510" height="715" fill="#fff" stroke="#999" stroke-width="4"/>
<line x1="1705" y1="125" x2="1705" y2="965" stroke="#999" stroke-width="4"/>
<rect x="1330" y="133" width="190" height="16" fill="#444"/>
<g stroke="#BBB" stroke-width="8" stroke-dasharray="36 50"><line x1="1230" y1="170" x2="1690" y2="170"/><line x1="1230" y1="912" x2="1690" y2="912"/></g>
<rect x="1340" y="932" width="210" height="16" fill="#666"/>
<g clip-path="url(#trC3)"><rect x="1150" y="180" width="560" height="740" fill="#36C94A"/>
<g filter="url(#trB)"><circle cx="1260" cy="420" r="80" fill="#22C8C0"/><circle cx="1330" cy="560" r="70" fill="#1FB8B0"/><circle cx="1300" cy="320" r="50" fill="#B8E030"/><circle cx="1600" cy="760" r="120" fill="#F2E62A"/><circle cx="1520" cy="860" r="90" fill="#F6D820"/><circle cx="1600" cy="560" r="70" fill="#E4E830"/><circle cx="1560" cy="640" r="55" fill="#20C890"/><circle cx="1440" cy="420" r="90" fill="#20B060"/><circle cx="1380" cy="640" r="50" fill="#C8E030"/><circle cx="1480" cy="300" r="60" fill="#30C8A0"/><circle cx="1560" cy="400" r="40" fill="#D8E830"/></g>
<g fill="none" stroke="#0A4A2A" stroke-width="2.5" opacity="0.55"><ellipse cx="1590" cy="800" rx="12" ry="14" transform="rotate(114 1590 800)"/><ellipse cx="1267" cy="762" rx="16" ry="20" transform="rotate(53 1267 762)"/><ellipse cx="1300" cy="362" rx="22" ry="21" transform="rotate(39 1300 362)"/><ellipse cx="1516" cy="444" rx="26" ry="15" transform="rotate(35 1516 444)"/><ellipse cx="1265" cy="267" rx="27" ry="15" transform="rotate(22 1265 267)"/><ellipse cx="1605" cy="649" rx="11" ry="21" transform="rotate(107 1605 649)"/><ellipse cx="1404" cy="550" rx="33" ry="15" transform="rotate(115 1404 550)"/><ellipse cx="1492" cy="464" rx="18" ry="22" transform="rotate(114 1492 464)"/><ellipse cx="1410" cy="559" rx="15" ry="22" transform="rotate(4 1410 559)"/><ellipse cx="1496" cy="521" rx="15" ry="19" transform="rotate(105 1496 521)"/><ellipse cx="1240" cy="544" rx="14" ry="22" transform="rotate(59 1240 544)"/><ellipse cx="1351" cy="368" rx="11" ry="11" transform="rotate(27 1351 368)"/><ellipse cx="1487" cy="772" rx="15" ry="10" transform="rotate(96 1487 772)"/><ellipse cx="1253" cy="489" rx="28" ry="12" transform="rotate(126 1253 489)"/><ellipse cx="1448" cy="284" rx="16" ry="19" transform="rotate(17 1448 284)"/><ellipse cx="1294" cy="599" rx="30" ry="17" transform="rotate(119 1294 599)"/><ellipse cx="1204" cy="424" rx="18" ry="24" transform="rotate(64 1204 424)"/><ellipse cx="1561" cy="252" rx="22" ry="24" transform="rotate(139 1561 252)"/><ellipse cx="1467" cy="347" rx="32" ry="9" transform="rotate(174 1467 347)"/><ellipse cx="1557" cy="691" rx="23" ry="11" transform="rotate(61 1557 691)"/><ellipse cx="1505" cy="650" rx="19" ry="22" transform="rotate(10 1505 650)"/><ellipse cx="1332" cy="288" rx="18" ry="22" transform="rotate(136 1332 288)"/><ellipse cx="1269" cy="427" rx="13" ry="20" transform="rotate(80 1269 427)"/><ellipse cx="1307" cy="469" rx="31" ry="16" transform="rotate(124 1307 469)"/><ellipse cx="1489" cy="533" rx="23" ry="15" transform="rotate(36 1489 533)"/><ellipse cx="1427" cy="425" rx="18" ry="11" transform="rotate(164 1427 425)"/><ellipse cx="1396" cy="358" rx="11" ry="12" transform="rotate(156 1396 358)"/><ellipse cx="1355" cy="657" rx="16" ry="20" transform="rotate(81 1355 657)"/><ellipse cx="1539" cy="568" rx="19" ry="13" transform="rotate(107 1539 568)"/><ellipse cx="1583" cy="673" rx="22" ry="14" transform="rotate(160 1583 673)"/><ellipse cx="1589" cy="323" rx="26" ry="22" transform="rotate(122 1589 323)"/><ellipse cx="1644" cy="793" rx="16" ry="26" transform="rotate(59 1644 793)"/><ellipse cx="1375" cy="855" rx="14" ry="15" transform="rotate(113 1375 855)"/><ellipse cx="1326" cy="401" rx="29" ry="19" transform="rotate(134 1326 401)"/><ellipse cx="1563" cy="788" rx="31" ry="23" transform="rotate(176 1563 788)"/><ellipse cx="1430" cy="679" rx="22" ry="25" transform="rotate(118 1430 679)"/><ellipse cx="1398" cy="655" rx="17" ry="10" transform="rotate(70 1398 655)"/><ellipse cx="1263" cy="233" rx="12" ry="16" transform="rotate(137 1263 233)"/><ellipse cx="1222" cy="637" rx="13" ry="17" transform="rotate(53 1222 637)"/><ellipse cx="1405" cy="686" rx="20" ry="15" transform="rotate(131 1405 686)"/></g><g fill="none" stroke="#0A4A2A" stroke-width="3" opacity="0.55"><path d="M1200,380 C1300,420 1340,520 1420,560 S1540,600 1600,700"/><path d="M1260,300 C1340,360 1420,340 1480,420 S1540,520 1640,560"/><path d="M1300,600 C1380,640 1420,720 1500,760 S1580,800 1640,760"/><circle cx="1570" cy="630" r="55"/><circle cx="1570" cy="630" r="30"/><path d="M1240,480 C1300,470 1340,430 1400,470 S1460,540 1520,520"/><path d="M1330,260 C1380,300 1440,270 1500,300"/></g></g>
<rect x="1210" y="680" width="58" height="185" fill="#fff" stroke="#999" stroke-width="3"/><rect x="1216" y="700" width="24" height="160" fill="url(#trRain2)"/>
<!-- info column -->
<rect x="1718" y="135" width="190" height="190" fill="#fff" stroke="#AAA" stroke-width="3"/>
<polygon points="1745,145 1880,145 1870,210 1800,200 1760,190" fill="#27B4F0"/>
<polygon points="1770,200 1820,185 1860,230 1840,290 1790,300 1765,250" fill="#37D84A"/>
<polygon points="1800,225 1850,215 1862,270 1822,285" fill="#27B4F0"/><polygon points="1772,215 1800,200 1806,240 1778,246" fill="#F040E0"/><polygon points="1792,270 1822,280 1812,310 1790,300" fill="#F040E0"/><polygon points="1835,200 1870,215 1860,240 1838,230" fill="#F0E030"/>
<rect x="1718" y="370" width="190" height="215" fill="#fff" stroke="#AAA" stroke-width="3" stroke-dasharray="14 8"/>
<polygon points="1800,430 1840,420 1852,470 1832,515 1808,500" fill="#30E0F0"/>
<rect x="1718" y="604" width="80" height="22" fill="#F03030"/><polygon points="1840,630 1898,598 1880,632" fill="#2040B0"/>
<g stroke="#777" stroke-width="7" stroke-dasharray="30 6 12 6"><line x1="1730" y1="655" x2="1895" y2="655"/><line x1="1740" y1="672" x2="1885" y2="672"/><line x1="1730" y1="689" x2="1895" y2="689"/><line x1="1745" y1="706" x2="1880" y2="706"/><line x1="1740" y1="720" x2="1880" y2="720"/></g>
<g stroke="#999" stroke-width="6" stroke-dasharray="40 8 20 8"><line x1="1720" y1="752" x2="1900" y2="752"/><line x1="1720" y1="772" x2="1880" y2="772"/><line x1="1720" y1="792" x2="1870" y2="792"/><line x1="1720" y1="822" x2="1860" y2="822"/><line x1="1720" y1="842" x2="1870" y2="842"/><line x1="1720" y1="872" x2="1850" y2="872"/><line x1="1720" y1="902" x2="1800" y2="902"/><line x1="1720" y1="932" x2="1895" y2="932"/><line x1="1720" y1="948" x2="1895" y2="948"/></g>
</g>

<g transform="translate(505,770) scale(0.13115)">
<defs>
<linearGradient id="lC1" x1="0" y1="0" x2="1" y2="0"><stop offset="0" stop-color="#8E4526"/><stop offset="0.25" stop-color="#C8754E"/><stop offset="0.55" stop-color="#D08660"/><stop offset="1" stop-color="#8A3F28"/></linearGradient>
<linearGradient id="lC2" x1="0" y1="0" x2="1" y2="0"><stop offset="0" stop-color="#4A3432"/><stop offset="0.4" stop-color="#8A6A62"/><stop offset="1" stop-color="#4E3836"/></linearGradient>
<linearGradient id="lC3" x1="0" y1="0" x2="1" y2="0"><stop offset="0" stop-color="#7E3A30"/><stop offset="0.5" stop-color="#B8604C"/><stop offset="1" stop-color="#8A4034"/></linearGradient>
<clipPath id="lK3"><polygon points="450,205 480,185 602,180 602,822 500,822 455,720"/></clipPath>
</defs>
<!-- core photo -->
<rect x="85" y="130" width="517" height="692" fill="#050303"/>
<rect x="85" y="130" width="152" height="692" fill="url(#lC1)"/>
<rect x="262" y="130" width="156" height="692" fill="url(#lC2)"/>
<g stroke="#B9A9A0" stroke-width="10" opacity="0.55"><line x1="262" y1="560" x2="418" y2="560"/><line x1="262" y1="600" x2="418" y2="600"/><line x1="262" y1="640" x2="418" y2="640"/><line x1="262" y1="690" x2="418" y2="690"/><line x1="262" y1="730" x2="418" y2="730"/><line x1="262" y1="775" x2="418" y2="775"/><line x1="262" y1="250" x2="418" y2="250"/><line x1="262" y1="300" x2="418" y2="300"/></g>
<rect x="265" y="362" width="152" height="150" fill="#C9DCC4"/>
<path d="M268,170 C300,180 340,210 380,260 L410,320 L395,250 C360,200 320,160 275,150 Z" fill="#F4F4F0"/>
<g clip-path="url(#lK3)"><rect x="450" y="170" width="152" height="660" fill="url(#lC3)"/>
<g stroke="#E8C4C0" stroke-width="16" opacity="0.75"><line x1="440" y1="400" x2="610" y2="250"/><line x1="440" y1="520" x2="610" y2="370"/><line x1="440" y1="470" x2="610" y2="330"/><line x1="470" y1="640" x2="610" y2="520"/></g>
<path d="M455,655 C480,700 500,715 520,700 C550,680 580,640 600,600" fill="none" stroke="#F4F0E8" stroke-width="9"/></g>
<!-- correlation panel -->
<polygon points="690,600 940,600 1040,632 1260,632 1395,602 1610,602 1650,650 1760,752 1945,752 1945,1150 1760,1150 1620,1036 690,1026" fill="#3EF2F2"/>
<g fill="#fff"><polygon points="690,680 880,682 940,676 945,690 880,700 690,698"/><polygon points="690,772 940,770 1040,762 1215,762 1215,808 1040,800 940,812 690,818"/><polygon points="690,884 868,884 868,912 690,912"/><polygon points="1262,778 1290,770 1300,782 1270,800"/><polygon points="1690,830 1760,820 1945,820 1945,905 1760,905 1720,870"/><polygon points="1700,1000 1760,995 1945,995 1945,1060 1760,1060"/><polygon points="912,880 940,895 912,912"/></g>
<polygon points="690,405 905,405 1035,285 1260,285 1395,305 1610,305 1720,245 1945,245 1945,270 1725,270 1615,335 1395,335 1260,340 1040,340 910,440 690,440" fill="#F5A742" stroke="#7A5A20" stroke-width="3"/>
<polygon points="690,490 905,490 1040,462 1040,478 905,520 690,520" fill="#E88EE0"/>
<polygon points="690,545 905,545 1040,560 1945,562 1945,576 1040,576 905,576 690,576" fill="#E88EE0"/>
<g fill="#7ED890"><rect x="1040" y="345" width="178" height="22"/><rect x="1020" y="395" width="198" height="10"/><rect x="1030" y="435" width="188" height="22"/><rect x="1030" y="495" width="188" height="20"/></g>
<line x1="605" y1="655" x2="1945" y2="655" stroke="#2233A8" stroke-width="6"/>
<!-- track lines -->
<g stroke="#444" stroke-width="3" fill="none"><path d="M690,440 V1026 M850,440 V1026"/><path d="M1040,285 V1040 M1130,285 V1040 M1215,285 V1040 M1040,1040 H1262"/><path d="M1395,305 V1040 M1490,305 V1040 M1575,305 V1040 M1395,1040 H1615"/><path d="M1755,245 V1205 M1850,245 V1205 M1930,245 V1205 M1755,1205 H1975"/></g>
<!-- log curves -->
<g stroke="#111" stroke-width="4" fill="none" stroke-linejoin="round"><path d="M835,440 l-10,30 12,20 -120,5 10,40 -12,20 30,10 -20,40 15,30 -25,30 30,20 -20,50 18,40 -22,40 25,30 -20,40 15,50 -20,40"/><path d="M848,470 l-6,60 8,70 -10,80 8,90 -6,80 8,90 -6,80"/><path d="M1100,290 l10,30 -30,30 -20,60 12,70 -10,60 14,50 -16,60 30,40 -20,30 40,30 -30,40 36,30 -34,40 40,30 -30,40 34,40 -30,40 20,50 -20,40"/><path d="M1195,300 l-8,80 10,90 -8,100 12,100 -10,120 8,120 -6,100"/><path d="M1425,350 l-6,80 10,90 -10,80 30,50 -24,40 40,30 -34,40 38,40 -30,40 34,40 -36,50 50,30 -44,50 20,60 -20,40"/><path d="M1548,350 l-6,80 12,60 -22,40 16,70 -10,120 12,60 -30,60 24,60 -8,120"/><path d="M1780,270 l-6,100 12,80 -10,70 20,40 -16,60 14,80 -10,60 50,40 -60,40 56,40 -50,50 60,40 -70,50 40,50 -30,60 20,40"/><path d="M1895,270 l-6,100 10,90 -12,100 14,110 -10,130 8,130 -10,120 8,100"/></g>
<!-- well columns -->
<rect x="868" y="445" width="18" height="585" fill="#000"/><rect x="886" y="445" width="27" height="585" fill="#1020E0"/>
<g><rect x="886" y="445" width="27" height="28" fill="#E82020"/><rect x="886" y="500" width="27" height="30" fill="#A01880"/><rect x="886" y="540" width="27" height="16" fill="#F0E020"/><rect x="886" y="585" width="27" height="22" fill="#F0E020"/><rect x="886" y="690" width="27" height="18" fill="#E82020"/><rect x="886" y="800" width="27" height="30" fill="#A01880"/><rect x="886" y="900" width="27" height="18" fill="#F0E020"/><rect x="886" y="918" width="27" height="14" fill="#E82020"/></g>
<rect x="1220" y="345" width="16" height="445" fill="#000"/><rect x="1236" y="345" width="27" height="695" fill="#1020E0"/>
<g><rect x="1236" y="345" width="27" height="20" fill="#E82020"/><rect x="1236" y="385" width="27" height="20" fill="#E82020"/><rect x="1236" y="415" width="27" height="25" fill="#A01880"/><rect x="1236" y="455" width="27" height="25" fill="#106040"/><rect x="1236" y="480" width="27" height="50" fill="#E82020"/><rect x="1236" y="530" width="27" height="20" fill="#F0E020"/><rect x="1236" y="550" width="27" height="40" fill="#E82020"/><rect x="1236" y="590" width="27" height="32" fill="#F0E020"/><rect x="1236" y="622" width="27" height="16" fill="#E82020"/><rect x="1236" y="785" width="27" height="22" fill="#E82020"/><rect x="1236" y="807" width="27" height="14" fill="#F0E020"/></g>
<rect x="1575" y="355" width="17" height="680" fill="#000"/><rect x="1592" y="355" width="25" height="680" fill="#1020E0"/>
<g><rect x="1592" y="355" width="25" height="75" fill="#E82020"/><rect x="1592" y="430" width="25" height="25" fill="#7020A0"/><rect x="1592" y="455" width="25" height="20" fill="#F0E020"/><rect x="1592" y="475" width="25" height="15" fill="#E82020"/><rect x="1592" y="490" width="25" height="75" fill="#F0E020"/><rect x="1592" y="565" width="25" height="20" fill="#E82020"/><rect x="1592" y="585" width="25" height="27" fill="#F0E020"/></g>
<rect x="1928" y="270" width="18" height="385" fill="#000"/><rect x="1946" y="250" width="30" height="955" fill="#1020E0"/>
<g><rect x="1946" y="250" width="30" height="40" fill="#F8F8F0"/><rect x="1946" y="290" width="30" height="40" fill="#E82020"/><rect x="1946" y="330" width="30" height="20" fill="#F0E020"/><rect x="1946" y="350" width="30" height="20" fill="#E82020"/><rect x="1946" y="370" width="30" height="100" fill="#F0E020"/><rect x="1946" y="470" width="30" height="30" fill="#E82020"/><rect x="1946" y="500" width="30" height="85" fill="#F0E020"/><rect x="1946" y="585" width="30" height="25" fill="#E82020"/><rect x="1946" y="610" width="30" height="95" fill="#F0E020"/><rect x="1946" y="705" width="30" height="15" fill="#E82020"/><rect x="1946" y="720" width="30" height="40" fill="#F0E020"/><rect x="1946" y="835" width="30" height="35" fill="#F0E020"/><rect x="1946" y="870" width="30" height="25" fill="#E82020"/><rect x="1946" y="895" width="30" height="25" fill="#F0E020"/><rect x="1946" y="1010" width="30" height="60" fill="#E82020"/><rect x="1946" y="1160" width="30" height="45" fill="#E82020"/></g>
<!-- labels -->
<g fill="#F5F5C4" stroke="#8A8A60" stroke-width="4"><rect x="718" y="270" width="150" height="55"/><rect x="1068" y="145" width="150" height="56"/><rect x="1425" y="163" width="150" height="53"/><rect x="1782" y="95" width="153" height="60"/></g>
<g fill="#555" font-size="36" font-family="Liberation Serif,serif"><text x="738" y="312" textLength="110">11S/G-6</text><text x="1080" y="188" textLength="125">11S/Ba-3</text><text x="1438" y="204" textLength="125">11S/13-3</text><text x="1800" y="142" textLength="118">11S/14-1</text></g>
<g fill="#444"><rect x="695" y="378" width="80" height="12"/><rect x="795" y="378" width="55" height="12"/><rect x="1045" y="258" width="80" height="12"/><rect x="1148" y="258" width="55" height="12"/><rect x="1400" y="278" width="80" height="12"/><rect x="1500" y="278" width="55" height="12"/><rect x="1760" y="222" width="80" height="12"/><rect x="1862" y="222" width="55" height="12"/>
<rect x="612" y="462" width="50" height="12"/><rect x="612" y="838" width="50" height="12"/><rect x="612" y="1022" width="50" height="12"/><rect x="965" y="1038" width="55" height="12"/><rect x="1325" y="362" width="55" height="12"/><rect x="1325" y="738" width="55" height="12"/><rect x="1325" y="928" width="55" height="12"/><rect x="1680" y="450" width="55" height="12"/><rect x="1680" y="1200" width="55" height="12"/></g>
</g>

<g transform="translate(1260,720) scale(0.15)">
<rect x="130" y="145" width="255" height="980" fill="#fff" stroke="#111" stroke-width="6"/>
<rect x="133" y="148" width="249" height="16" fill="#D8D8F0"/>
<rect x="133" y="164" width="249" height="14" fill="#555" opacity="0.8"/>
<path d="M175,180 V1125 M275,180 V1125" stroke="#333" stroke-width="3"/>
<rect x="142" y="215" width="22" height="8" fill="#888"/>
<rect x="142" y="293" width="22" height="8" fill="#888"/>
<rect x="142" y="371" width="22" height="8" fill="#888"/>
<rect x="142" y="449" width="22" height="8" fill="#888"/>
<rect x="142" y="527" width="22" height="8" fill="#888"/>
<rect x="142" y="605" width="22" height="8" fill="#888"/>
<rect x="142" y="683" width="22" height="8" fill="#888"/>
<rect x="142" y="761" width="22" height="8" fill="#888"/>
<rect x="142" y="839" width="22" height="8" fill="#888"/>
<rect x="142" y="917" width="22" height="8" fill="#888"/>
<rect x="142" y="995" width="22" height="8" fill="#888"/>
<rect x="142" y="1073" width="22" height="8" fill="#888"/>
<rect x="490" y="145" width="255" height="625" fill="#fff" stroke="#111" stroke-width="6"/>
<rect x="493" y="148" width="249" height="16" fill="#C8F0F0"/>
<rect x="493" y="164" width="249" height="14" fill="#555" opacity="0.8"/>
<path d="M528,180 V770 M640,180 V770" stroke="#333" stroke-width="3"/>
<rect x="502" y="215" width="22" height="8" fill="#888"/>
<rect x="502" y="293" width="22" height="8" fill="#888"/>
<rect x="502" y="371" width="22" height="8" fill="#888"/>
<rect x="502" y="449" width="22" height="8" fill="#888"/>
<rect x="502" y="527" width="22" height="8" fill="#888"/>
<rect x="502" y="605" width="22" height="8" fill="#888"/>
<rect x="502" y="683" width="22" height="8" fill="#888"/>
<rect x="850" y="145" width="255" height="625" fill="#fff" stroke="#111" stroke-width="6"/>
<rect x="853" y="148" width="249" height="16" fill="#F0C8E8"/>
<rect x="853" y="164" width="249" height="14" fill="#555" opacity="0.8"/>
<path d="M900,180 V770 M1000,180 V770" stroke="#333" stroke-width="3"/>
<rect x="862" y="215" width="22" height="8" fill="#888"/>
<rect x="862" y="293" width="22" height="8" fill="#888"/>
<rect x="862" y="371" width="22" height="8" fill="#888"/>
<rect x="862" y="449" width="22" height="8" fill="#888"/>
<rect x="862" y="527" width="22" height="8" fill="#888"/>
<rect x="862" y="605" width="22" height="8" fill="#888"/>
<rect x="862" y="683" width="22" height="8" fill="#888"/>
<path d="M209,185 L195,194 L233,203 L190,212 L225,221 L212,230 L188,239 L223,248 L187,257 L217,266 L189,275 L191,284 L216,293 L247,302 L193,311 L201,320 L232,329 L256,338 L228,347 L214,356 L258,365 L188,374 L249,383 L206,392 L195,401 L193,410 L207,419 L246,428 L198,437 L228,446 L233,455 L212,464 L226,473 L189,482 L189,491 L200,500 L236,509 L216,518 L208,527 L229,536 L218,545 L207,554 L244,563 L237,572 L203,581 L228,590 L224,599 L251,608 L239,617 L206,626 L258,635 L193,644 L216,653 L242,662 L196,671 L221,680 L187,689 L235,698 L242,707 L228,716 L251,725 L208,734 L237,743 L229,752 L228,761 L219,770 L248,779 L256,788 L220,797 L234,806 L189,815 L237,824 L233,833 L259,842 L246,851 L206,860 L213,869 L235,878 L186,887 L219,896 L197,905 L193,914 L188,923 L242,932 L194,941 L203,950 L214,959 L250,968 L190,977 L218,986 L226,995 L251,1004 L246,1013 L250,1022 L205,1031 L216,1040 L211,1049 L251,1058 L257,1067 L195,1076 L197,1085 L202,1094 L202,1103 L221,1112" fill="none" stroke="#111" stroke-width="6" stroke-linejoin="round"/>
<path d="M296,280 L292,292 L289,304 L294,316 L293,328 L296,340 L300,352 L297,364 L295,376 L296,388 L297,400 L290,412 L300,424 L298,436 L299,448 L299,460 L294,472" fill="none" stroke="#555" stroke-width="3"/>
<path d="M303,480 L283,491 L319,502 L280,513 L281,524 L290,535 L287,546 L299,557 L280,568 L276,579 L286,590 L283,601 L301,612 L278,623 L335,634 L318,645 L286,656 L293,667 L300,678 L301,689 L284,700 L334,711 L344,722 L308,733 L309,744 L282,755 L283,766 L299,777 L294,788 L332,799" fill="none" stroke="#222" stroke-width="4"/>
<path d="M286,800 L282,812 L308,824 L296,836 L285,848 L296,860 L282,872 L296,884 L308,896 L305,908 L300,920 L288,932 L291,944 L286,956 L303,968 L296,980 L303,992 L290,1004 L287,1016 L304,1028 L309,1040 L305,1052 L304,1064 L304,1076 L302,1088 L287,1100" fill="none" stroke="#444" stroke-width="3"/>
<path d="M660,185 L657,199 L651,213 L651,227 L656,241 L655,255 L664,269 L669,283 L659,297 L669,311 L670,325 L669,339 L657,353 L654,367 L655,381 L654,395 L654,409 L662,423 L668,437 L667,451 L660,465 L663,479 L666,493 L652,507" fill="none" stroke="#333" stroke-width="3"/>
<path d="M665,190 C720,190 735,180 742,175 M660,320 l60,6 -50,8 55,6 -50,8" fill="none" stroke="#333" stroke-width="3"/>
<path d="M610,520 L626,530 L618,540 L616,550 L599,560 L579,570 L619,580 L589,590 L619,600 L630,610 L593,620 L594,630 L629,640 L614,650 L579,660 L576,670 L578,680 L626,690 L620,700 L577,710 L621,720 L631,730 L610,740 L590,750 L603,760 L576,770" fill="none" stroke="#222" stroke-width="4"/>
<path d="M657,520 L722,530 L700,540 L692,550 L719,560 L685,570 L715,580 L712,590 L670,600 L673,610 L676,620 L672,630 L696,640 L674,650 L684,660 L665,670 L718,680 L680,690 L687,700 L696,710 L717,720 L685,730 L718,740 L690,750 L692,760 L692,770" fill="none" stroke="#222" stroke-width="4"/>
<path d="M922,185 L933,197 L926,209 L921,221 L943,233 L926,245 L934,257 L941,269 L937,281 L930,293 L936,305 L937,317 L943,329 L924,341 L937,353 L928,365 L929,377 L943,389 L935,401 L937,413 L942,425 L947,437 L933,449 L938,461 L935,473 L935,485 L940,497 L934,509 L936,521 L934,533 L947,545 L941,557 L946,569 L947,581 L928,593 L937,605 L947,617 L945,629 L925,641 L924,653 L933,665 L923,677 L928,689 L923,701 L940,713 L943,725 L946,737 L925,749 L941,761" fill="none" stroke="#222" stroke-width="4"/>
<path d="M1014,185 L1008,199 L1016,213 L1017,227 L1009,241 L1017,255 L1011,269 L1012,283 L1017,297 L1015,311 L1009,325 L1011,339 L1012,353 L1010,367 L1009,381 L1010,395 L1014,409 L1007,423 L1013,437 L1011,451 L1007,465 L1010,479 L1013,493 L1012,507" fill="none" stroke="#444" stroke-width="3"/>
<path d="M1005,510 L1068,521 L1055,532 L1067,543 L1008,554 L1019,565 L1004,576 L1054,587 L1019,598 L1010,609 L1030,620 L1063,631 L1057,642 L1019,653 L1011,664 L1064,675 L1040,686 L1049,697 L1007,708 L1005,719 L1048,730 L1030,741 L1006,752 L1065,763" fill="none" stroke="#222" stroke-width="4"/>
<path d="M110,510 H1135" stroke="#9A9AE8" stroke-width="4"/>
<path d="M115,608 L745,610 L1130,615" stroke="#00DD44" stroke-width="8" fill="none"/>
<path d="M115,686 L745,690 L1130,682" stroke="#E4E424" stroke-width="6" fill="none"/>
<path d="M115,756 L385,752" stroke="#FF6A7A" stroke-width="6"/><path d="M385,752 L490,742" stroke="#FF6A7A" stroke-width="4" stroke-dasharray="22 12"/><path d="M490,742 L1130,740" stroke="#FF6A7A" stroke-width="6"/>
<path d="M115,797 L385,794" stroke="#FF22B0" stroke-width="6"/><path d="M385,794 L475,776" stroke="#FF22B0" stroke-width="4" stroke-dasharray="22 12"/>
<rect x="360" y="498" width="22" height="8" fill="#6060D0"/>
<rect x="720" y="498" width="22" height="8" fill="#6060D0"/>
<rect x="1085" y="498" width="22" height="8" fill="#6060D0"/>
<rect x="470" y="776" width="1040" height="690" fill="#fff"/>
<rect x="575" y="792" width="26" height="10" fill="#777"/>
<rect x="700" y="792" width="60" height="10" fill="#777"/>
<rect x="865" y="792" width="26" height="10" fill="#777"/>
<rect x="975" y="792" width="60" height="10" fill="#777"/>
<rect x="1120" y="792" width="26" height="10" fill="#777"/>
<rect x="1215" y="792" width="60" height="10" fill="#777"/>
<rect x="1350" y="792" width="26" height="10" fill="#777"/>
<rect x="560" y="822" width="18" height="9" fill="#777"/>
<rect x="622" y="822" width="18" height="9" fill="#777"/>
<rect x="838" y="822" width="18" height="9" fill="#777"/>
<rect x="900" y="822" width="18" height="9" fill="#777"/>
<rect x="1078" y="822" width="18" height="9" fill="#777"/>
<rect x="1165" y="822" width="18" height="9" fill="#777"/>
<rect x="1320" y="822" width="18" height="9" fill="#777"/>
<rect x="1400" y="822" width="18" height="9" fill="#777"/>
<rect x="476" y="900" width="36" height="10" fill="#666"/><path d="M525,905 H640" stroke="#222" stroke-width="3"/>
<rect x="476" y="935" width="36" height="10" fill="#666"/><path d="M525,940 H640" stroke="#222" stroke-width="3"/>
<rect x="476" y="1053" width="36" height="10" fill="#666"/><path d="M525,1058 H640" stroke="#222" stroke-width="3"/>
<rect x="476" y="1153" width="36" height="10" fill="#666"/><path d="M525,1158 H640" stroke="#222" stroke-width="3"/>
<rect x="476" y="1233" width="36" height="10" fill="#666"/><path d="M525,1238 H640" stroke="#222" stroke-width="3"/>
<rect x="476" y="1330" width="36" height="10" fill="#666"/><path d="M525,1335 H640" stroke="#222" stroke-width="3"/>
<rect x="476" y="1430" width="36" height="10" fill="#666"/><path d="M525,1435 H640" stroke="#222" stroke-width="3"/>
<rect x="655" y="967" width="30" height="9" fill="#777"/>
<rect x="655" y="1105" width="30" height="9" fill="#777"/>
<rect x="685" y="1190" width="30" height="9" fill="#777"/>
<rect x="660" y="1290" width="30" height="9" fill="#777"/>
<rect x="660" y="1363" width="30" height="9" fill="#777"/>
<rect x="665" y="1433" width="30" height="9" fill="#777"/>
<rect x="1035" y="895" width="30" height="9" fill="#777"/>
<rect x="1035" y="940" width="30" height="9" fill="#777"/>
<rect x="1025" y="1050" width="30" height="9" fill="#777"/>
<rect x="1025" y="1180" width="30" height="9" fill="#777"/>
<rect x="1440" y="825" width="30" height="9" fill="#777"/>
<rect x="1440" y="855" width="30" height="9" fill="#777"/>
<rect x="1440" y="915" width="30" height="9" fill="#777"/>
<rect x="1440" y="995" width="30" height="9" fill="#777"/>
<rect x="1440" y="1120" width="30" height="9" fill="#777"/>
<rect x="1440" y="1215" width="30" height="9" fill="#777"/>
<rect x="1440" y="1315" width="30" height="9" fill="#777"/>
<path d="M640,850 C890,850 1050,850 1180,850 S1280,818 1345,812" fill="none" stroke="#222" stroke-width="3"/>
<path d="M640,905 C890,909 1050,909 1180,907 S1280,840 1345,828" fill="none" stroke="#222" stroke-width="3"/>
<path d="M640,940 C890,948 1050,948 1180,944 S1280,862 1345,848" fill="none" stroke="#222" stroke-width="3"/>
<path d="M905,970 C1155,982 1050,982 1180,976 S1280,883 1345,868" fill="none" stroke="#222" stroke-width="3"/>
<path d="M905,1100 C1155,1120 1050,1120 1180,1110 S1280,934 1345,905" fill="none" stroke="#222" stroke-width="3"/>
<path d="M905,1135 C1155,1147 1050,1147 1180,1141 S1280,978 1345,950" fill="none" stroke="#222" stroke-width="3"/>
<path d="M905,1200 C1155,1216 1050,1216 1180,1208 S1280,1017 1345,985" fill="none" stroke="#222" stroke-width="3"/>
<path d="M700,1190 C950,1250 1050,1250 1180,1220 S1280,1033 1345,1005" fill="none" stroke="#222" stroke-width="3"/>
<path d="M700,1245 C950,1305 1050,1305 1180,1275 S1280,1062 1345,1030" fill="none" stroke="#222" stroke-width="3"/>
<path d="M700,1292 C950,1348 1050,1348 1180,1320 S1280,1137 1345,1110" fill="none" stroke="#222" stroke-width="3"/>
<path d="M700,1340 C950,1392 1050,1392 1180,1366 S1280,1221 1345,1200" fill="none" stroke="#222" stroke-width="3"/>
<path d="M700,1390 C950,1438 1050,1438 1180,1414 S1280,1281 1345,1262" fill="none" stroke="#222" stroke-width="3"/>
<path d="M700,1440 C950,1460 1050,1460 1180,1450 S1280,1340 1345,1322" fill="none" stroke="#222" stroke-width="3"/>
<path d="M690,905 H770 M690,948 H770 M685,1070 L760,1090 M690,1165 L770,1185" stroke="#222" stroke-width="3"/>
<path d="M590,850 V1440 M615,850 V1440" stroke="#333" stroke-width="3"/>
<rect x="592" y="860" width="22" height="100" fill="#C8D040"/>
<rect x="592" y="1190" width="22" height="45" fill="#C8D040"/>
<rect x="592" y="1325" width="22" height="15" fill="#C8D040"/>
<rect x="592" y="1380" width="22" height="40" fill="#C8D040"/>
<path d="M570,850 L573,857 L561,864 L574,871 L560,878 L575,885 L567,892 L565,899 L569,906 L576,913 L564,920 L561,927 L568,934 L563,941 L561,948 L562,955 L560,962 L563,969 L565,976 L564,983 L573,990 L564,997 L568,1004 L562,1011 L565,1018 L559,1025 L564,1032 L559,1039 L572,1046 L569,1053 L562,1060 L568,1067 L576,1074 L561,1081 L574,1088 L567,1095 L568,1102 L574,1109 L566,1116 L568,1123 L571,1130 L577,1137 L565,1144 L574,1151 L572,1158 L570,1165 L566,1172 L565,1179 L560,1186 L561,1193 L560,1200 L572,1207 L564,1214 L562,1221 L561,1228 L574,1235 L575,1242 L571,1249 L564,1256 L563,1263 L564,1270 L567,1277 L562,1284 L567,1291 L564,1298 L576,1305 L577,1312 L569,1319 L563,1326 L576,1333 L565,1340 L565,1347 L559,1354 L566,1361 L568,1368 L568,1375 L563,1382 L568,1389 L559,1396 L564,1403 L561,1410 L566,1417 L560,1424 L559,1431 L564,1438" fill="none" stroke="#F01818" stroke-width="7"/>
<path d="M630,850 L633,861 L632,872 L634,883 L633,894 L634,905 L635,916 L631,927 L631,938 L636,949 L629,960 L634,971 L633,982 L628,993 L635,1004 L635,1015 L633,1026 L634,1037 L634,1048 L629,1059 L632,1070 L632,1081 L635,1092 L634,1103 L635,1114 L633,1125 L635,1136 L633,1147 L634,1158 L630,1169 L628,1180 L629,1191 L631,1202 L629,1213 L635,1224 L632,1235 L633,1246 L633,1257 L633,1268 L632,1279 L628,1290 L634,1301 L634,1312 L632,1323 L632,1334 L633,1345 L629,1356 L634,1367 L630,1378 L629,1389 L630,1400 L634,1411 L630,1422 L634,1433" fill="none" stroke="#2838B8" stroke-width="3"/>
<path d="M875,850 V1225 M900,850 V1225" stroke="#333" stroke-width="3"/>
<rect x="877" y="850" width="22" height="110" fill="#C8D040"/>
<rect x="877" y="1050" width="22" height="45" fill="#C8D040"/>
<path d="M859,850 L850,857 L848,864 L850,871 L853,878 L855,885 L852,892 L853,899 L842,906 L844,913 L846,920 L854,927 L846,934 L851,941 L841,948 L842,955 L846,962 L853,969 L853,976 L853,983 L846,990 L850,997 L849,1004 L849,1011 L843,1018 L857,1025 L845,1032 L859,1039 L858,1046 L841,1053 L849,1060 L856,1067 L858,1074 L849,1081 L846,1088 L845,1095 L858,1102 L845,1109 L851,1116 L844,1123 L850,1130 L858,1137 L843,1144 L856,1151 L850,1158 L857,1165 L854,1172 L845,1179 L857,1186 L850,1193 L841,1200 L841,1207 L850,1214 L849,1221" fill="none" stroke="#F01818" stroke-width="7"/>
<path d="M903,850 L902,861 L904,872 L904,883 L908,894 L901,905 L907,916 L908,927 L902,938 L908,949 L907,960 L908,971 L903,982 L904,993 L904,1004 L909,1015 L906,1026 L904,1037 L904,1048 L903,1059 L901,1070 L902,1081 L908,1092 L903,1103 L908,1114 L903,1125 L903,1136 L905,1147 L903,1158 L904,1169 L909,1180 L908,1191 L907,1202 L906,1213 L908,1224" fill="none" stroke="#2838B8" stroke-width="3"/>
<path d="M1125,850 V1235 M1150,850 V1235" stroke="#333" stroke-width="3"/>
<rect x="1127" y="850" width="22" height="110" fill="#C8D040"/>
<rect x="1127" y="1030" width="22" height="15" fill="#C8D040"/>
<rect x="1127" y="1150" width="22" height="18" fill="#C8D040"/>
<path d="M1108,850 L1101,857 L1104,864 L1092,871 L1104,878 L1099,885 L1105,892 L1103,899 L1096,906 L1092,913 L1108,920 L1093,927 L1099,934 L1097,941 L1096,948 L1104,955 L1109,962 L1096,969 L1103,976 L1096,983 L1101,990 L1098,997 L1094,1004 L1094,1011 L1095,1018 L1107,1025 L1100,1032 L1095,1039 L1107,1046 L1109,1053 L1099,1060 L1094,1067 L1094,1074 L1093,1081 L1097,1088 L1093,1095 L1095,1102 L1096,1109 L1101,1116 L1107,1123 L1104,1130 L1098,1137 L1098,1144 L1100,1151 L1098,1158 L1097,1165 L1092,1172 L1096,1179 L1108,1186 L1093,1193 L1100,1200 L1102,1207 L1107,1214 L1095,1221 L1096,1228 L1095,1235" fill="none" stroke="#F01818" stroke-width="7"/>
<path d="M1167,850 L1168,861 L1172,872 L1171,883 L1171,894 L1164,905 L1164,916 L1170,927 L1171,938 L1168,949 L1169,960 L1164,971 L1167,982 L1171,993 L1171,1004 L1171,1015 L1172,1026 L1166,1037 L1165,1048 L1165,1059 L1168,1070 L1169,1081 L1172,1092 L1170,1103 L1169,1114 L1170,1125 L1168,1136 L1168,1147 L1164,1158 L1170,1169 L1166,1180 L1171,1191 L1169,1202 L1166,1213 L1165,1224 L1166,1235" fill="none" stroke="#2838B8" stroke-width="3"/>
<path d="M1362,812 V1390 M1387,812 V1390" stroke="#333" stroke-width="3"/>
<rect x="1364" y="815" width="22" height="65" fill="#C8D040"/>
<rect x="1364" y="955" width="22" height="30" fill="#C8D040"/>
<rect x="1364" y="1000" width="22" height="30" fill="#C8D040"/>
<rect x="1364" y="1060" width="22" height="30" fill="#C8D040"/>
<rect x="1364" y="1105" width="22" height="20" fill="#C8D040"/>
<rect x="1364" y="1215" width="22" height="13" fill="#C8D040"/>
<path d="M1347,812 L1349,819 L1338,826 L1337,833 L1345,840 L1346,847 L1343,854 L1340,861 L1347,868 L1336,875 L1341,882 L1344,889 L1353,896 L1348,903 L1352,910 L1345,917 L1340,924 L1340,931 L1353,938 L1349,945 L1342,952 L1336,959 L1345,966 L1348,973 L1344,980 L1341,987 L1348,994 L1353,1001 L1340,1008 L1337,1015 L1342,1022 L1344,1029 L1348,1036 L1340,1043 L1350,1050 L1349,1057 L1345,1064 L1340,1071 L1353,1078 L1342,1085 L1351,1092 L1340,1099 L1340,1106 L1350,1113 L1341,1120 L1353,1127 L1345,1134 L1339,1141 L1340,1148 L1344,1155 L1348,1162 L1353,1169 L1339,1176 L1343,1183 L1340,1190 L1354,1197 L1339,1204 L1337,1211 L1337,1218 L1343,1225 L1352,1232 L1352,1239 L1349,1246 L1354,1253 L1353,1260 L1342,1267 L1339,1274 L1353,1281 L1349,1288 L1337,1295 L1348,1302 L1343,1309 L1343,1316 L1342,1323 L1339,1330 L1336,1337 L1341,1344 L1342,1351 L1353,1358 L1338,1365 L1353,1372 L1340,1379 L1342,1386" fill="none" stroke="#F01818" stroke-width="7"/>
<path d="M1411,812 L1411,823 L1407,834 L1404,845 L1408,856 L1407,867 L1411,878 L1406,889 L1407,900 L1411,911 L1404,922 L1407,933 L1410,944 L1410,955 L1404,966 L1404,977 L1405,988 L1411,999 L1406,1010 L1410,1021 L1411,1032 L1407,1043 L1406,1054 L1412,1065 L1409,1076 L1406,1087 L1410,1098 L1407,1109 L1406,1120 L1404,1131 L1410,1142 L1411,1153 L1409,1164 L1412,1175 L1404,1186 L1406,1197 L1408,1208 L1412,1219 L1412,1230 L1407,1241 L1406,1252 L1407,1263 L1408,1274 L1411,1285 L1405,1296 L1410,1307 L1410,1318 L1411,1329 L1410,1340 L1409,1351 L1407,1362 L1407,1373 L1407,1384" fill="none" stroke="#2838B8" stroke-width="3"/>
<path d="M540,1190 l40,20 -40,20 M540,1380 h50 v40 h-50 z" fill="none" stroke="#F01818" stroke-width="7"/>
<path d="M1355,1415 V1450" stroke="#333" stroke-width="3"/><rect x="1372" y="1436" width="60" height="10" fill="#777"/>
</g>
<g transform="translate(890,1050) scale(0.12647)">
<defs>
<linearGradient id="bMt" x1="0" y1="0" x2="0" y2="1"><stop offset="0" stop-color="#7A4A10"/><stop offset="0.45" stop-color="#9A7A18"/><stop offset="0.75" stop-color="#38B030"/><stop offset="1" stop-color="#108838"/></linearGradient>
<linearGradient id="bSea" x1="0.2" y1="0" x2="0.6" y2="1"><stop offset="0" stop-color="#36CCA8"/><stop offset="0.5" stop-color="#30C080"/><stop offset="1" stop-color="#18A028"/></linearGradient>
<linearGradient id="bYl" x1="0" y1="0" x2="1" y2="0.6"><stop offset="0" stop-color="#C8D830"/><stop offset="0.3" stop-color="#F2F22C"/><stop offset="1" stop-color="#E4EE30"/></linearGradient>
<pattern id="bHatch" width="34" height="34" patternUnits="userSpaceOnUse" patternTransform="rotate(-32)"><rect width="34" height="34" fill="#7ADC8A"/><rect width="5" height="34" fill="#1E7A3A"/></pattern>
<pattern id="bDots" width="16" height="16" patternUnits="userSpaceOnUse"><rect width="16" height="16" fill="#E8A45C"/><circle cx="5" cy="5" r="3.5" fill="#B86A20"/></pattern>
</defs>
<!-- cut face -->
<polygon points="145,322 330,452 620,642 1150,802 1232,1032 1432,1162 1250,1052 1000,902 700,802 400,562" fill="#D8C070"/>
<polygon points="620,650 1150,806 1232,1032 1000,902 720,792" fill="url(#bHatch)"/>
<polygon points="230,380 620,628 1150,792 1190,850 800,722 520,590 300,452" fill="#C8922E"/>
<polygon points="200,372 480,560 700,690 560,640 330,480" fill="#D06A18"/>
<polygon points="600,640 1140,800 1150,820 620,668" fill="#EEDC50"/>
<polygon points="1232,1032 1292,1040 1432,1162 1380,1152" fill="url(#bDots)"/>
<path d="M150,330 L400,570 L700,812 L1000,912 L1250,1062 L1432,1170" fill="none" stroke="#999" stroke-width="4" stroke-dasharray="5 12"/>
<!-- top surface -->
<polygon points="145,320 640,200 740,300 1552,590 1562,700 1250,852 1150,802 620,642 330,452" fill="url(#bYl)"/>
<polygon points="1150,802 1560,598 1700,850 2000,960 2000,992 1622,1272 1432,1162 1232,1032" fill="url(#bSea)"/>
<polygon points="1552,590 1600,640 1640,628 1690,672 1730,660 1780,705 1820,692 1870,738 1910,725 1960,768 2000,762 2000,962 1700,852" fill="#16B6E2"/>
<path d="M1290,870 C1340,900 1380,860 1430,900 S1520,960 1570,940 S1660,1000 1720,960 S1760,900 1800,880" fill="none" stroke="#2AA0B0" stroke-width="6"/>
<!-- mountains -->
<polygon points="145,320 165,290 185,262 205,240 222,262 250,232 272,250 298,222 322,240 350,214 378,230 410,190 432,212 462,180 490,150 508,178 540,160 570,150 600,140 622,150 640,200 720,262 560,330 420,372 300,392" fill="url(#bMt)"/>
<g fill="#22A83A"><path d="M150,322 C220,300 300,330 360,370 C300,400 220,380 150,322Z"/><path d="M300,290 C380,262 460,300 520,330 C450,370 370,350 300,290Z"/><path d="M470,250 C540,222 640,240 720,270 C660,320 540,310 470,250Z"/></g>
<g fill="#C4DC38"><path d="M340,400 C420,372 470,420 520,450 C460,470 380,450 340,400Z"/><path d="M560,320 C640,300 700,320 740,340 C690,372 610,362 560,320Z"/></g>
<path d="M640,300 C700,330 720,380 800,372 S900,352 930,420 M440,400 C520,420 540,470 620,470 S720,500 780,470 M600,392 C640,440 700,470 760,440" fill="none" stroke="#6AA898" stroke-width="7"/>
<!-- delta -->
<path d="M680,530 C720,500 790,520 812,500 C830,452 900,450 940,420 C1000,392 1060,420 1120,440 C1200,470 1300,520 1400,560 L1520,612 C1500,660 1440,670 1400,700 C1340,740 1260,790 1200,802 C1140,800 1100,790 1040,760 C960,720 880,700 800,660 C740,640 670,600 680,530Z" fill="#108A40"/>
<path d="M720,560 c40,-30 60,30 100,0 s60,30 100,10 M850,470 c40,30 80,-20 120,10 s80,30 120,0 M900,620 c40,-30 80,30 120,0 s80,30 120,10 M1000,520 c50,30 90,-20 140,10 s80,40 130,10 M1060,700 c40,-30 80,20 120,-10 s60,-40 110,-30 M1180,600 c40,20 80,-20 130,10" fill="none" stroke="#6CD080" stroke-width="7"/>
<g stroke="#E8E030" stroke-width="7"><line x1="1170" y1="580" x2="1210" y2="566"/><line x1="1250" y1="640" x2="1290" y2="622"/><line x1="1130" y1="660" x2="1170" y2="645"/><line x1="1310" y1="540" x2="1350" y2="528"/><line x1="1390" y1="590" x2="1430" y2="575"/><line x1="1100" y1="770" x2="1140" y2="760"/></g>
<g fill="#F4F024"><path d="M1180,800 a52,52 0 0 0 104,-30 l-40,-30 z"/><path d="M1300,750 a62,60 0 0 0 120,-40 l-50,-32 z"/><path d="M1440,670 a60,56 0 0 0 118,-36 l-56,-30 z"/></g>
<polygon points="1458,800 1476,740 1494,800" fill="#fff"/>
<!-- text block -->
<g fill="#1a1a1a" font-size="31" font-family="Liberation Sans,sans-serif"><text x="1305" y="228" textLength="350" lengthAdjust="spacingAndGlyphs">Relative Sealevel Highstand</text><text x="1305" y="280" textLength="665" lengthAdjust="spacingAndGlyphs">Fluvial Systems Source Prograding Regressive Shore</text><text x="1305" y="330" textLength="605" lengthAdjust="spacingAndGlyphs">Migrating Deltas Feed Longshore Drift Forming</text><text x="1305" y="380" textLength="600" lengthAdjust="spacingAndGlyphs">Linear Parallel Beach (Chenier) Ridges &amp; Swales</text><text x="1305" y="430" textLength="310" lengthAdjust="spacingAndGlyphs">No Back Barrier Lagoons</text></g>
<!-- sea level chart -->
<rect x="175" y="768" width="340" height="128" fill="#42C2E4"/>
<path d="M175,720 V1310" stroke="#555" stroke-width="4"/>
<g stroke-width="8"><line x1="175" y1="763" x2="515" y2="763" stroke="#B83068"/><line x1="175" y1="897" x2="515" y2="897" stroke="#1E8C84"/><line x1="175" y1="955" x2="515" y2="955" stroke="#3C84C4"/><line x1="175" y1="1015" x2="515" y2="1015" stroke="#5C9CCC"/><line x1="175" y1="1092" x2="515" y2="1092" stroke="#D43458"/><line x1="175" y1="1150" x2="515" y2="1150" stroke="#44B484"/><line x1="175" y1="1173" x2="515" y2="1173" stroke="#3C84C4"/><line x1="175" y1="1212" x2="515" y2="1212" stroke="#F04464"/></g>
<path d="M330,726 C380,722 430,730 415,745 C380,752 300,760 288,795 C280,850 360,890 420,930 C470,960 520,990 490,1020 C440,1050 340,1080 335,1110 C340,1140 400,1130 420,1165 C440,1200 330,1200 335,1235 C345,1270 400,1290 432,1308" fill="none" stroke="#1A78B8" stroke-width="9"/>
<polygon points="298,800 346,758 346,832" fill="#F0601A"/>
<g fill="#444" font-size="30" font-family="Liberation Sans,sans-serif"><text x="122" y="752">30</text><text x="122" y="848">25</text><text x="122" y="948">20</text><text x="122" y="1050">15</text><text x="122" y="1146">10</text><text x="138" y="1244">5</text><text x="145" y="1318">1</text></g>
<g fill="#222" font-size="24" font-family="Liberation Sans,sans-serif"><text x="182" y="746" textLength="85" lengthAdjust="spacingAndGlyphs">S.M.S.T.</text><text x="182" y="832" textLength="62" lengthAdjust="spacingAndGlyphs">H.S.T.</text><text x="182" y="940" textLength="55" lengthAdjust="spacingAndGlyphs">T.S.T.</text><text x="182" y="1000" textLength="55" lengthAdjust="spacingAndGlyphs">L.S.T.</text><text x="182" y="1062" textLength="78" lengthAdjust="spacingAndGlyphs">F.S.S.T.</text><text x="182" y="1138" textLength="60" lengthAdjust="spacingAndGlyphs">H.S.T.</text><text x="245" y="1168" textLength="50" lengthAdjust="spacingAndGlyphs">T.S.T.</text><text x="182" y="1200" textLength="85" lengthAdjust="spacingAndGlyphs">S.M.S.T.</text><text x="182" y="1274" textLength="60" lengthAdjust="spacingAndGlyphs">H.S.T.</text></g>
<g font-size="38" font-weight="bold" font-family="Liberation Sans,sans-serif"><text x="528" y="780" fill="#F020A0" textLength="68" lengthAdjust="spacingAndGlyphs">SB2</text><text x="528" y="906" fill="#186040" textLength="62" lengthAdjust="spacingAndGlyphs">mfs</text><text x="528" y="968" fill="#3C84C4" textLength="40" lengthAdjust="spacingAndGlyphs">TS</text><text x="528" y="1106" fill="#F020A0" textLength="68" lengthAdjust="spacingAndGlyphs">SB1</text><text x="528" y="1160" fill="#186040" textLength="62" lengthAdjust="spacingAndGlyphs">mfs</text><text x="528" y="1192" fill="#3C84C4" font-size="26">TS</text><text x="528" y="1230" fill="#F020A0" textLength="68" lengthAdjust="spacingAndGlyphs">SB2</text></g>
<g fill="#222" font-size="30" font-weight="bold" font-style="italic" font-family="Liberation Sans,sans-serif"><text x="176" y="1372" textLength="190" lengthAdjust="spacingAndGlyphs">High Sea Lev</text><text x="420" y="1372" textLength="186" lengthAdjust="spacingAndGlyphs">Low Sea Lev</text></g>
<!-- legend -->
<rect x="735" y="950" width="87" height="60" fill="#F4F032" stroke="#AAA" stroke-width="3"/>
<rect x="735" y="1030" width="87" height="60" fill="#108434" stroke="#AAA" stroke-width="3"/>
<rect x="735" y="1114" width="87" height="58" fill="#E0701A" stroke="#AAA" stroke-width="3"/>
<rect x="735" y="1195" width="87" height="58" fill="url(#bDots)" stroke="#AAA" stroke-width="3"/>
<polygon points="760,1314 822,1274 822,1350" fill="#F0601A"/>
<g fill="#333" font-size="30" font-family="Liberation Sans,sans-serif"><text x="860" y="992" textLength="60" lengthAdjust="spacingAndGlyphs">Sand</text><text x="860" y="1072" textLength="64" lengthAdjust="spacingAndGlyphs">Shale</text><text x="860" y="1156" textLength="80" lengthAdjust="spacingAndGlyphs">Gravel</text><text x="860" y="1234" textLength="160" lengthAdjust="spacingAndGlyphs">Graded Beds</text><text x="860" y="1314" textLength="228" lengthAdjust="spacingAndGlyphs">Sea Level Position</text></g>
<text x="1330" y="0" font-size="24" fill="#555" font-family="Liberation Sans,sans-serif" textLength="300" lengthAdjust="spacingAndGlyphs" transform="translate(0,1230) rotate(24.5 1330 0)">Lithologies G. M.S. Revised 2008</text>
</g>

<text x="752.6" y="81.5" font-size="58.2" font-weight="bold" fill="#000" textLength="592.7" lengthAdjust="spacingAndGlyphs">Modelo Estratigráfico</text>
<text x="678.5" y="205.0" font-size="34.2" font-weight="bold" fill="#000" textLength="278.0" lengthAdjust="spacingAndGlyphs">Modelo de datos</text>
<text x="701.0" y="242.5" font-size="34.2" font-weight="bold" fill="#000" textLength="232.5" lengthAdjust="spacingAndGlyphs">estratigráficos</text>
<text x="1092.5" y="202.5" font-size="34.2" font-weight="bold" fill="#000" textLength="264.5" lengthAdjust="spacingAndGlyphs">Construcción de</text>
<text x="1077.5" y="240.0" font-size="34.2" font-weight="bold" fill="#000" textLength="295.0" lengthAdjust="spacingAndGlyphs">mapas de espesor</text>
<text x="921.4" y="789.5" font-size="43.6" font-weight="bold" fill="#000" textLength="158.3" lengthAdjust="spacingAndGlyphs">Modelo</text>
<text x="870.2" y="849.8" font-size="43.6" font-weight="bold" fill="#000" textLength="272.3" lengthAdjust="spacingAndGlyphs">Estratigráfico</text>
<text x="521.0" y="1050.0" font-size="34.2" font-weight="bold" fill="#000" textLength="251.0" lengthAdjust="spacingAndGlyphs">Identificación e</text>
<text x="504.5" y="1088.5" font-size="34.2" font-weight="bold" fill="#000" textLength="284.5" lengthAdjust="spacingAndGlyphs">interpretación de</text>
<text x="523.0" y="1125.5" font-size="34.2" font-weight="bold" fill="#000" textLength="248.0" lengthAdjust="spacingAndGlyphs">los marcadores</text>
<text x="531.0" y="1162.5" font-size="34.2" font-weight="bold" fill="#000" textLength="232.0" lengthAdjust="spacingAndGlyphs">estratigráficos</text>
<text x="1254.0" y="1050.0" font-size="34.2" font-weight="bold" fill="#000" textLength="238.0" lengthAdjust="spacingAndGlyphs">Correlación de</text>
<text x="1260.0" y="1088.5" font-size="34.2" font-weight="bold" fill="#000" textLength="226.5" lengthAdjust="spacingAndGlyphs">secuencias de</text>
<text x="1263.5" y="1125.2" font-size="34.2" font-weight="bold" fill="#000" textLength="20.0" lengthAdjust="spacingAndGlyphs">4</text>
<text x="1285.5" y="1113.4" font-size="21.2" font-weight="bold" fill="#000" textLength="21.2" lengthAdjust="spacingAndGlyphs">to</text>
<text x="1315.4" y="1125.2" font-size="34.2" font-weight="bold" fill="#000" textLength="18.7" lengthAdjust="spacingAndGlyphs">y</text>
<text x="1343.8" y="1125.2" font-size="34.2" font-weight="bold" fill="#000" textLength="16.8" lengthAdjust="spacingAndGlyphs">5</text>
<text x="1364.3" y="1113.4" font-size="21.2" font-weight="bold" fill="#000" textLength="20.2" lengthAdjust="spacingAndGlyphs">to</text>
<text x="1395.3" y="1125.2" font-size="34.2" font-weight="bold" fill="#000" textLength="95.6" lengthAdjust="spacingAndGlyphs">orden</text>
<text x="901.4" y="1351.8" font-size="35" font-weight="bold" fill="#000" textLength="271.2" lengthAdjust="spacingAndGlyphs">Identificación de</text>
<text x="898.2" y="1399.1" font-size="35" font-weight="bold" fill="#000" textLength="252.9" lengthAdjust="spacingAndGlyphs">secuencias de 3</text>
<text x="1154.7" y="1386.0" font-size="22" font-weight="bold" fill="#000" textLength="20.7" lengthAdjust="spacingAndGlyphs">er</text>
<text x="899.8" y="1446.2" font-size="35" font-weight="bold" fill="#000" textLength="274.7" lengthAdjust="spacingAndGlyphs">orden y sistemas</text>
<text x="928.4" y="1494.0" font-size="35" font-weight="bold" fill="#000" textLength="216.9" lengthAdjust="spacingAndGlyphs">encadenados</text>
<rect x="133.0" y="190.0" width="475.0" height="79.4" rx="13.5" ry="13.5" fill="#fff" stroke="#2273B5" stroke-width="3.7"/>
<rect x="133.0" y="282.1" width="475.0" height="79.2" rx="13.5" ry="13.5" fill="#fff" stroke="#2273B5" stroke-width="3.7"/>
<rect x="133.0" y="374.4" width="475.0" height="79.1" rx="13.5" ry="13.5" fill="#fff" stroke="#2273B5" stroke-width="3.7"/>
<rect x="133.0" y="466.5" width="475.0" height="79.2" rx="13.5" ry="13.5" fill="#fff" stroke="#2273B5" stroke-width="3.7"/>
<text x="257.8" y="239.7" font-size="29.1" font-weight="bold" fill="#000" textLength="225.2" lengthAdjust="spacingAndGlyphs">Trabajos Previos</text>
<text x="325.2" y="331.8" font-size="29.1" font-weight="bold" fill="#000" textLength="91.6" lengthAdjust="spacingAndGlyphs">Mapas</text>
<text x="156.1" y="424.0" font-size="29.1" font-weight="bold" fill="#000" textLength="428.4" lengthAdjust="spacingAndGlyphs">Análisis de muestras litológicas</text>
<text x="249.6" y="515.5" font-size="29.1" font-weight="bold" fill="#000" textLength="241.4" lengthAdjust="spacingAndGlyphs">Registros de pozo</text>
<rect x="1420.8" y="191.3" width="480.8" height="81.3" rx="13.5" ry="13.5" fill="#fff" stroke="#2273B5" stroke-width="3.7"/>
<rect x="1420.8" y="287.4" width="480.8" height="81.3" rx="13.5" ry="13.5" fill="#fff" stroke="#2273B5" stroke-width="3.7"/>
<rect x="1420.8" y="383.4" width="480.8" height="81.3" rx="13.5" ry="13.5" fill="#fff" stroke="#2273B5" stroke-width="3.7"/>
<rect x="1420.8" y="478.9" width="480.8" height="81.3" rx="13.5" ry="13.5" fill="#fff" stroke="#2273B5" stroke-width="3.7"/>
<text x="1488.6" y="243.0" font-size="29.1" font-weight="bold" fill="#000" textLength="346.4" lengthAdjust="spacingAndGlyphs">Mapas isópacos/isocoros</text>
<text x="1447.6" y="338.0" font-size="29.1" font-weight="bold" fill="#000" textLength="427.4" lengthAdjust="spacingAndGlyphs">Mapas de relación arena/lutita</text>
<text x="1516.1" y="434.0" font-size="29.1" font-weight="bold" fill="#000" textLength="290.4" lengthAdjust="spacingAndGlyphs">Mapas de arena neta</text>
<text x="1439.1" y="529.0" font-size="29.1" font-weight="bold" fill="#000" textLength="444.4" lengthAdjust="spacingAndGlyphs">Mapas de arena neta petrolífera</text>
<rect x="204.3" y="1230.8" width="643.8" height="93.8" rx="13.5" ry="13.5" fill="#fff" stroke="#2273B5" stroke-width="3.7"/>
<rect x="204.3" y="1342.8" width="643.8" height="102.8" rx="13.5" ry="13.5" fill="#fff" stroke="#2273B5" stroke-width="3.7"/>
<rect x="204.3" y="1466.8" width="643.8" height="114.3" rx="13.5" ry="13.5" fill="#fff" stroke="#2273B5" stroke-width="3.7"/>
<text x="365.6" y="1286.0" font-size="29.1" font-weight="bold" fill="#000" textLength="215.6" lengthAdjust="spacingAndGlyphs">Secuencias de 3</text>
<text x="583.3" y="1276.8" font-size="18.9" font-weight="bold" fill="#000" textLength="15.7" lengthAdjust="spacingAndGlyphs">er</text>
<text x="606.8" y="1286.0" font-size="29.1" font-weight="bold" fill="#000" textLength="80.1" lengthAdjust="spacingAndGlyphs">orden</text>
<text x="253.6" y="1385.0" font-size="29.1" font-weight="bold" fill="#000" textLength="545.9" lengthAdjust="spacingAndGlyphs">Definición de patrones de apilamiento -</text>
<text x="232.1" y="1421.0" font-size="29.1" font-weight="bold" fill="#000" textLength="588.4" lengthAdjust="spacingAndGlyphs">progradantes, agradantes y retrogradantes</text>
<text x="238.1" y="1496.5" font-size="29.1" font-weight="bold" fill="#000" textLength="577.4" lengthAdjust="spacingAndGlyphs">Definición de sistemas encadenados - alto</text>
<text x="240.1" y="1532.5" font-size="29.1" font-weight="bold" fill="#000" textLength="572.4" lengthAdjust="spacingAndGlyphs">nivel (HST), bajo (LST) nivel y transgresivo</text>
<text x="492.1" y="1568.5" font-size="29.1" font-weight="bold" fill="#000" textLength="68.4" lengthAdjust="spacingAndGlyphs">(TST)</text>
<rect x="72.0" y="686.0" width="373.9" height="100.9" rx="1.5" fill="#fff" stroke="#2273B5" stroke-width="3.9"/>
<rect x="72.0" y="817.2" width="373.9" height="100.9" rx="1.5" fill="#fff" stroke="#2273B5" stroke-width="3.9"/>
<rect x="72.0" y="948.0" width="373.9" height="99.7" rx="1.5" fill="#fff" stroke="#2273B5" stroke-width="3.9"/>
<rect x="72.0" y="1078.0" width="373.9" height="100.7" rx="1.5" fill="#fff" stroke="#2273B5" stroke-width="3.9"/>
<text x="128.1" y="745.0" font-size="29.1" font-weight="bold" fill="#000" textLength="261.4" lengthAdjust="spacingAndGlyphs">Análisis de núcleos</text>
<text x="133.6" y="877.5" font-size="29.1" font-weight="bold" fill="#000" textLength="250.9" lengthAdjust="spacingAndGlyphs">Muestras de canal</text>
<text x="158.6" y="990.0" font-size="29.1" font-weight="bold" fill="#000" textLength="199.9" lengthAdjust="spacingAndGlyphs">Correlación de</text>
<text x="182.1" y="1026.0" font-size="29.1" font-weight="bold" fill="#000" textLength="153.4" lengthAdjust="spacingAndGlyphs">SB/MFS/FS</text>
<text x="221.1" y="1120.0" font-size="29.1" font-weight="bold" fill="#000" textLength="105.4" lengthAdjust="spacingAndGlyphs">Análisis</text>
<text x="127.1" y="1156.0" font-size="29.1" font-weight="bold" fill="#000" textLength="263.4" lengthAdjust="spacingAndGlyphs">Sismoestratigráfico</text>
<rect x="1575.0" y="734.8" width="473.1" height="114.3" rx="1.5" fill="#fff" stroke="#2273B5" stroke-width="3.9"/>
<rect x="1572.5" y="884.2" width="475.6" height="113.4" rx="1.5" fill="#fff" stroke="#2273B5" stroke-width="3.9"/>
<rect x="1572.5" y="1032.8" width="475.6" height="113.5" rx="1.5" fill="#fff" stroke="#2273B5" stroke-width="3.9"/>
<text x="1673.6" y="775.0" font-size="29.1" font-weight="bold" fill="#000" textLength="269.9" lengthAdjust="spacingAndGlyphs">Secuencias de 4to y</text>
<text x="1741.1" y="826.0" font-size="29.1" font-weight="bold" fill="#000" textLength="134.4" lengthAdjust="spacingAndGlyphs">5to orden</text>
<text x="1709.1" y="924.0" font-size="29.1" font-weight="bold" fill="#000" textLength="199.4" lengthAdjust="spacingAndGlyphs">Correlación de</text>
<text x="1735.1" y="975.0" font-size="29.1" font-weight="bold" fill="#000" textLength="147.4" lengthAdjust="spacingAndGlyphs">secuencias</text>
<text x="1667.6" y="1098.5" font-size="29.1" font-weight="bold" fill="#000" textLength="281.9" lengthAdjust="spacingAndGlyphs">Topes estratigráficos</text>
<defs>
<clipPath id="slc0"><circle cx="59.7" cy="736.4" r="50.0"/></clipPath>
<clipPath id="slc1"><circle cx="59.7" cy="867.5" r="50.0"/></clipPath>
<clipPath id="slc2"><circle cx="59.7" cy="997.7" r="50.0"/></clipPath>
<clipPath id="slc3"><circle cx="59.7" cy="1128.3" r="50.0"/></clipPath>
<filter id="rockF" color-interpolation-filters="sRGB" x="0" y="0" width="100%" height="100%"><feTurbulence type="fractalNoise" baseFrequency="0.09" numOctaves="3" seed="4" result="n"/><feColorMatrix in="n" type="matrix" values="0.9 0 0 0 0.18  0.7 0 0 0 0.10  0.45 0 0 0 0.02  0 0 0 0 1"/></filter>
<filter id="rockG" color-interpolation-filters="sRGB" x="0" y="0" width="100%" height="100%"><feTurbulence type="fractalNoise" baseFrequency="0.5" numOctaves="2" seed="9" result="n"/><feColorMatrix in="n" type="matrix" values="0.5 0 0 0 0.40  0.5 0 0 0 0.37  0.5 0 0 0 0.32  0 0 0 0 1"/></filter>
<filter id="coreF" color-interpolation-filters="sRGB" x="0" y="0" width="100%" height="100%"><feTurbulence type="fractalNoise" baseFrequency="0.02 0.45" numOctaves="2" seed="2" result="n"/><feColorMatrix in="n" type="matrix" values="1.5 0 0 0 -0.25  1.45 0 0 0 -0.25  1.1 0 0 0 -0.22  0 0 0 0 1"/></filter>
</defs>
<g clip-path="url(#slc0)"><rect x="0" y="676.4" width="120" height="120" fill="#1E3CA0"/>
<g><clipPath id="slab"><rect x="27" y="676.4" width="65.6" height="120"/></clipPath><g clip-path="url(#slab)"><rect x="27" y="676.4" width="66" height="120" fill="#8C8660"/>
<g transform="rotate(-16 59.7 736.4)">
<rect x="-20" y="684.4" width="170" height="14" fill="#2C2C26" opacity="0.56"/>
<rect x="-20" y="702.4" width="170" height="6" fill="#3A3A30" opacity="0.43"/>
<rect x="-20" y="722.4" width="170" height="26" fill="#26261F" opacity="0.57"/>
<rect x="-20" y="752.4" width="170" height="5" fill="#3A3A30" opacity="0.37"/>
<rect x="-20" y="766.4" width="170" height="4" fill="#44443A" opacity="0.37"/>
<rect x="-20" y="780.4" width="170" height="6" fill="#3A3A30" opacity="0.31"/>
<rect x="-20" y="712.4" width="170" height="3" fill="#B8B48C" opacity="0.70"/>
<rect x="-20" y="760.4" width="170" height="5" fill="#B0AC84" opacity="0.60"/>
<rect x="-20" y="774.4" width="170" height="4" fill="#A8A47C" opacity="0.60"/>
<rect x="-20" y="753.6" width="170" height="1.4" fill="#A8A47E" opacity="0.77"/>
<rect x="-20" y="770.0" width="170" height="0.6" fill="#1E1E1A" opacity="0.56"/>
<rect x="-20" y="798.5" width="170" height="1.5" fill="#2A2A24" opacity="0.40"/>
<rect x="-20" y="732.1" width="170" height="1.0" fill="#4A483A" opacity="0.40"/>
<rect x="-20" y="701.3" width="170" height="1.0" fill="#4A483A" opacity="0.43"/>
<rect x="-20" y="787.8" width="170" height="0.8" fill="#6A6850" opacity="0.71"/>
<rect x="-20" y="685.8" width="170" height="1.0" fill="#1E1E1A" opacity="0.41"/>
<rect x="-20" y="802.5" width="170" height="0.8" fill="#2A2A24" opacity="0.45"/>
<rect x="-20" y="803.9" width="170" height="0.9" fill="#4A483A" opacity="0.78"/>
<rect x="-20" y="741.9" width="170" height="0.8" fill="#4A483A" opacity="0.79"/>
<rect x="-20" y="694.0" width="170" height="0.9" fill="#6A6850" opacity="0.51"/>
<rect x="-20" y="689.6" width="170" height="0.9" fill="#4A483A" opacity="0.50"/>
<rect x="-20" y="780.8" width="170" height="0.6" fill="#1E1E1A" opacity="0.66"/>
<rect x="-20" y="713.7" width="170" height="1.0" fill="#A8A47E" opacity="0.49"/>
<rect x="-20" y="763.9" width="170" height="1.1" fill="#4A483A" opacity="0.67"/>
<rect x="-20" y="674.4" width="170" height="1.5" fill="#2A2A24" opacity="0.51"/>
<rect x="-20" y="723.0" width="170" height="1.4" fill="#1E1E1A" opacity="0.51"/>
<rect x="-20" y="747.4" width="170" height="1.1" fill="#2A2A24" opacity="0.67"/>
<rect x="-20" y="753.7" width="170" height="0.7" fill="#4A483A" opacity="0.46"/>
<rect x="-20" y="781.1" width="170" height="0.9" fill="#6A6850" opacity="0.51"/>
<rect x="-20" y="739.9" width="170" height="0.7" fill="#6A6850" opacity="0.69"/>
<rect x="-20" y="778.0" width="170" height="0.6" fill="#A8A47E" opacity="0.78"/>
<rect x="-20" y="679.2" width="170" height="1.1" fill="#A8A47E" opacity="0.51"/>
<rect x="-20" y="687.1" width="170" height="1.5" fill="#A8A47E" opacity="0.60"/>
<rect x="-20" y="710.1" width="170" height="0.9" fill="#A8A47E" opacity="0.71"/>
<rect x="-20" y="754.2" width="170" height="1.6" fill="#A8A47E" opacity="0.42"/>
<rect x="-20" y="673.2" width="170" height="1.1" fill="#1E1E1A" opacity="0.53"/>
<rect x="-20" y="699.6" width="170" height="0.9" fill="#1E1E1A" opacity="0.46"/>
<rect x="-20" y="757.5" width="170" height="0.7" fill="#4A483A" opacity="0.76"/>
<rect x="-20" y="671.0" width="170" height="0.9" fill="#6A6850" opacity="0.44"/>
<rect x="-20" y="803.8" width="170" height="1.5" fill="#1E1E1A" opacity="0.63"/>
<rect x="-20" y="776.7" width="170" height="0.8" fill="#2A2A24" opacity="0.52"/>
<rect x="-20" y="674.6" width="170" height="0.9" fill="#6A6850" opacity="0.55"/>
<rect x="-20" y="806.3" width="170" height="1.6" fill="#4A483A" opacity="0.55"/>
<rect x="-20" y="734.7" width="170" height="1.1" fill="#A8A47E" opacity="0.48"/>
<rect x="-20" y="722.9" width="170" height="0.7" fill="#4A483A" opacity="0.72"/>
<rect x="-20" y="740.8" width="170" height="1.2" fill="#4A483A" opacity="0.57"/>
<rect x="-20" y="713.8" width="170" height="1.1" fill="#2A2A24" opacity="0.58"/>
<rect x="-20" y="743.1" width="170" height="1.0" fill="#1E1E1A" opacity="0.70"/>
<rect x="-20" y="774.9" width="170" height="1.3" fill="#1E1E1A" opacity="0.69"/>
<rect x="-20" y="717.3" width="170" height="1.4" fill="#A8A47E" opacity="0.47"/>
<rect x="-20" y="803.7" width="170" height="1.6" fill="#A8A47E" opacity="0.50"/>
<rect x="-20" y="691.4" width="170" height="1.1" fill="#2A2A24" opacity="0.70"/>
<rect x="-20" y="712.0" width="170" height="1.1" fill="#A8A47E" opacity="0.72"/>
<rect x="-20" y="757.0" width="170" height="0.9" fill="#A8A47E" opacity="0.64"/>
<rect x="-20" y="769.7" width="170" height="1.0" fill="#6A6850" opacity="0.73"/>
<rect x="-20" y="788.2" width="170" height="1.6" fill="#6A6850" opacity="0.78"/>
<rect x="-20" y="738.9" width="170" height="1.6" fill="#1E1E1A" opacity="0.44"/>
<rect x="-20" y="717.1" width="170" height="0.9" fill="#6A6850" opacity="0.39"/>
<rect x="-20" y="760.3" width="170" height="0.8" fill="#6A6850" opacity="0.70"/>
<rect x="-20" y="747.7" width="170" height="0.9" fill="#6A6850" opacity="0.60"/>
<rect x="-20" y="787.8" width="170" height="1.3" fill="#A8A47E" opacity="0.36"/>
<rect x="-20" y="688.8" width="170" height="1.2" fill="#6A6850" opacity="0.43"/>
<rect x="-20" y="772.7" width="170" height="1.2" fill="#4A483A" opacity="0.37"/>
<rect x="-20" y="732.4" width="170" height="0.8" fill="#4A483A" opacity="0.75"/>
<rect x="-20" y="681.9" width="170" height="1.1" fill="#4A483A" opacity="0.60"/>
<rect x="-20" y="724.6" width="170" height="1.0" fill="#A8A47E" opacity="0.63"/>
<rect x="-20" y="749.0" width="170" height="1.3" fill="#4A483A" opacity="0.52"/>
<rect x="-20" y="715.5" width="170" height="1.5" fill="#A8A47E" opacity="0.74"/>
<rect x="-20" y="762.8" width="170" height="1.0" fill="#1E1E1A" opacity="0.37"/>
</g></g></g>
<rect x="26.5" y="698.4" width="2" height="80" fill="#CFCFC0"/><rect x="82" y="752.4" width="10.6" height="23" fill="#DCE6E4"/><rect x="90" y="752.4" width="3" height="23" fill="#F6F8F8"/>
</g>
<g clip-path="url(#slc1)"><rect x="0" y="807.5" width="120" height="120" fill="#5C4C30"/><rect x="0" y="807.5" width="120" height="120" filter="url(#rockF)" opacity="0.55"/>
<polygon points="76.0,822.5 74.3,827.2 69.5,827.5 68.0,822.6 72.3,819.3" fill="#907450" stroke="#30261A" stroke-width="0.7"/>
<polygon points="113.2,879.3 112.5,881.6 108.5,883.2 107.2,879.2 109.1,876.5 113.0,876.3" fill="#5C523A" stroke="#30261A" stroke-width="0.7"/>
<polygon points="70.3,850.0 64.9,844.1 67.5,837.9 74.6,834.7 75.5,843.0" fill="#5C523A" stroke="#30261A" stroke-width="0.7"/>
<polygon points="95.5,818.0 91.1,816.8 92.1,811.9 97.8,810.0 99.7,816.4" fill="#B8895C" stroke="#30261A" stroke-width="0.7"/>
<polygon points="100.4,814.8 102.4,812.7 104.8,814.0 104.5,816.6 101.6,817.5" fill="#7E6A46" stroke="#30261A" stroke-width="0.7"/>
<polygon points="99.9,870.9 102.5,869.9 104.5,872.4 102.7,874.7 99.8,873.7" fill="#C89A6C" stroke="#30261A" stroke-width="0.7"/>
<polygon points="8.1,901.3 14.0,899.8 19.0,903.1 16.0,908.7 9.5,907.4" fill="#6E5C3E" stroke="#30261A" stroke-width="0.7"/>
<polygon points="11.3,832.7 19.9,834.3 16.8,841.8 7.3,840.8" fill="#6A5A3E" stroke="#30261A" stroke-width="0.7"/>
<polygon points="93.4,820.9 99.0,821.4 98.5,828.5 92.9,831.9 87.9,825.3" fill="#3C382C" stroke="#30261A" stroke-width="0.7"/>
<polygon points="72.5,894.1 67.8,899.1 61.5,893.2 68.4,888.5" fill="#3C382C" stroke="#30261A" stroke-width="0.7"/>
<polygon points="69.4,866.8 73.1,860.7 78.1,862.7 81.3,870.5 75.4,873.7 70.7,871.0" fill="#8A6E48" stroke="#30261A" stroke-width="0.7"/>
<polygon points="12.8,885.5 15.3,882.4 17.0,885.7 15.1,887.9" fill="#5C523A" stroke="#30261A" stroke-width="0.7"/>
<polygon points="113.6,864.1 106.6,864.1 102.2,861.5 104.5,856.5 109.3,854.9 113.0,858.5" fill="#8A6E48" stroke="#30261A" stroke-width="0.7"/>
<polygon points="71.7,899.9 75.0,896.7 78.5,899.0 78.4,902.3 73.9,904.0" fill="#C89A6C" stroke="#30261A" stroke-width="0.7"/>
<polygon points="46.3,858.0 46.0,861.6 43.6,863.9 39.9,861.2 40.6,858.3 43.8,855.6" fill="#6A5A3E" stroke="#30261A" stroke-width="0.7"/>
<polygon points="30.8,866.9 29.3,865.3 31.0,863.0 33.1,864.5 32.8,867.5" fill="#6E5C3E" stroke="#30261A" stroke-width="0.7"/>
<polygon points="24.8,813.8 30.1,814.4 29.8,817.7 24.9,818.4" fill="#C89A6C" stroke="#30261A" stroke-width="0.7"/>
<polygon points="26.3,882.7 32.9,880.0 38.6,884.3 35.4,891.0 30.8,892.6 24.3,888.7" fill="#907450" stroke="#30261A" stroke-width="0.7"/>
<polygon points="100.2,860.8 109.9,864.7 106.2,872.1 96.8,869.8" fill="#907450" stroke="#30261A" stroke-width="0.7"/>
<polygon points="25.9,873.0 23.1,871.4 22.6,867.3 24.9,864.2 28.4,866.4 28.7,870.3" fill="#5E5640" stroke="#30261A" stroke-width="0.7"/>
<polygon points="70.6,884.2 78.4,888.8 78.7,895.7 72.3,897.5 68.8,892.3" fill="#A88058" stroke="#30261A" stroke-width="0.7"/>
<polygon points="30.7,819.2 34.1,818.7 37.2,822.6 35.0,825.1 30.1,825.8 27.7,822.6" fill="#4A4636" stroke="#30261A" stroke-width="0.7"/>
<polygon points="79.9,899.9 74.9,898.3 72.4,894.6 76.4,890.7 80.5,894.1" fill="#5C523A" stroke="#30261A" stroke-width="0.7"/>
<polygon points="30.6,885.9 35.0,882.2 38.3,887.3 33.6,890.7" fill="#6E5C3E" stroke="#30261A" stroke-width="0.7"/>
<polygon points="29.2,862.9 28.3,858.1 31.1,855.9 34.8,859.1 33.3,862.8" fill="#76643F" stroke="#30261A" stroke-width="0.7"/>
<polygon points="14.8,845.3 20.7,843.1 24.9,847.6 20.1,852.1 12.7,852.0" fill="#907450" stroke="#30261A" stroke-width="0.7"/>
<polygon points="110.4,812.7 114.7,813.8 114.8,819.9 109.8,822.3 107.4,816.9" fill="#6A5A3E" stroke="#30261A" stroke-width="0.7"/>
<polygon points="94.6,908.5 92.5,904.2 96.7,899.6 100.7,903.3 100.2,909.9" fill="#A88058" stroke="#30261A" stroke-width="0.7"/>
<polygon points="77.4,910.2 76.1,904.0 83.0,903.7 82.1,909.8" fill="#76643F" stroke="#30261A" stroke-width="0.7"/>
<polygon points="66.4,871.7 62.6,877.7 56.2,876.6 56.0,869.7 61.3,867.3" fill="#4A4636" stroke="#30261A" stroke-width="0.7"/>
<polygon points="31.2,813.4 36.8,809.3 41.0,813.2 40.4,819.6 37.1,823.7 30.9,819.7" fill="#B8895C" stroke="#30261A" stroke-width="0.7"/>
<polygon points="74.2,870.8 74.1,877.3 69.2,876.6 69.4,870.5" fill="#907450" stroke="#30261A" stroke-width="0.7"/>
<polygon points="106.9,876.2 108.5,881.5 102.8,882.5 100.5,877.2" fill="#7E6A46" stroke="#30261A" stroke-width="0.7"/>
<polygon points="103.5,836.7 97.0,832.6 102.0,827.0 107.5,830.8" fill="#907450" stroke="#30261A" stroke-width="0.7"/>
<polygon points="39.9,847.1 34.8,847.2 35.4,841.8 39.8,838.7 44.1,843.4" fill="#6E5C3E" stroke="#30261A" stroke-width="0.7"/>
<polygon points="106.6,832.8 103.7,826.9 110.9,823.4 112.8,829.7" fill="#907450" stroke="#30261A" stroke-width="0.7"/>
<polygon points="76.6,822.8 80.3,821.6 82.9,825.9 79.6,830.1 75.3,827.9" fill="#7E6A46" stroke="#30261A" stroke-width="0.7"/>
<polygon points="43.4,903.8 42.4,900.5 45.9,898.4 48.1,901.1 46.9,903.8" fill="#6A5A3E" stroke="#30261A" stroke-width="0.7"/>
<polygon points="10.2,856.5 6.6,857.3 3.4,856.5 2.6,852.6 6.1,851.6 9.3,852.4" fill="#C89A6C" stroke="#30261A" stroke-width="0.7"/>
<polygon points="12.8,824.9 16.0,821.1 18.4,825.8 15.2,829.2" fill="#5C523A" stroke="#30261A" stroke-width="0.7"/>
<polygon points="59.9,856.6 62.2,850.6 71.7,854.0 66.4,863.1" fill="#5E5640" stroke="#30261A" stroke-width="0.7"/>
<polygon points="17.4,918.7 15.2,921.9 12.0,919.5 12.7,916.2 15.6,915.0" fill="#6A5A3E" stroke="#30261A" stroke-width="0.7"/>
<polygon points="73.4,883.4 74.4,880.3 78.2,881.5 77.0,883.7" fill="#8A6E48" stroke="#30261A" stroke-width="0.7"/>
<polygon points="25.2,897.7 22.1,901.7 18.6,898.0 21.9,894.7" fill="#A88058" stroke="#30261A" stroke-width="0.7"/>
<polygon points="15.6,886.7 16.6,889.2 13.8,889.4 12.5,888.0 13.2,886.3" fill="#5C523A" stroke="#30261A" stroke-width="0.7"/>
<polygon points="91.5,824.2 91.1,821.9 92.9,820.9 95.1,820.7 96.1,823.3 94.5,825.4" fill="#907450" stroke="#30261A" stroke-width="0.7"/>
<polygon points="110.0,826.6 112.6,828.5 110.5,830.7 108.1,828.9" fill="#C89A6C" stroke="#30261A" stroke-width="0.7"/>
<polygon points="37.0,901.8 36.5,899.4 38.4,896.4 41.3,898.3 42.5,901.7 39.9,904.5" fill="#4A4636" stroke="#30261A" stroke-width="0.7"/>
<polygon points="91.8,879.0 93.9,872.9 98.3,872.1 103.4,876.1 100.9,880.7 96.4,881.4" fill="#A88058" stroke="#30261A" stroke-width="0.7"/>
<polygon points="8.9,895.9 8.7,892.3 11.9,892.1 11.8,895.2" fill="#5C523A" stroke="#30261A" stroke-width="0.7"/>
<polygon points="77.3,838.3 76.5,842.8 72.7,842.3 70.8,839.7 73.1,836.5" fill="#6A5A3E" stroke="#30261A" stroke-width="0.7"/>
<polygon points="7.8,876.6 9.4,874.3 12.2,874.9 13.0,877.4 11.3,879.2 8.6,879.1" fill="#7E6A46" stroke="#30261A" stroke-width="0.7"/>
<polygon points="109.4,884.1 111.4,885.8 111.2,890.4 107.3,888.9 106.8,886.0" fill="#3C382C" stroke="#30261A" stroke-width="0.7"/>
<polygon points="25.9,820.2 30.8,821.2 31.2,825.2 25.3,826.0" fill="#8A6E48" stroke="#30261A" stroke-width="0.7"/>
<polygon points="100.2,829.1 103.7,826.7 107.3,827.6 106.8,831.3 103.7,832.1" fill="#5E5640" stroke="#30261A" stroke-width="0.7"/>
<polygon points="33.2,878.1 40.3,879.9 36.7,885.1 29.1,883.4" fill="#5C523A" stroke="#30261A" stroke-width="0.7"/>
<polygon points="77.3,889.5 77.3,892.7 74.5,894.7 72.5,892.3 73.5,889.7" fill="#B8895C" stroke="#30261A" stroke-width="0.7"/>
<polygon points="105.0,869.6 102.5,871.0 100.0,868.6 101.7,866.6 104.4,866.8" fill="#907450" stroke="#30261A" stroke-width="0.7"/>
<polygon points="16.1,871.0 17.8,868.4 20.1,870.2 20.8,872.4 19.0,874.1 16.2,873.1" fill="#C89A6C" stroke="#30261A" stroke-width="0.7"/>
<polygon points="79.6,822.1 80.4,818.6 83.7,817.4 85.7,820.5 85.6,823.9 82.1,823.8" fill="#B8895C" stroke="#30261A" stroke-width="0.7"/>
<polygon points="110.7,898.8 105.7,899.5 105.2,894.2 112.1,894.5" fill="#3C382C" stroke="#30261A" stroke-width="0.7"/>
<polygon points="100.9,875.3 105.1,877.7 107.0,883.0 102.8,887.9 98.2,884.3 95.4,880.0" fill="#76643F" stroke="#30261A" stroke-width="0.7"/>
<polygon points="34.1,848.2 40.0,847.8 42.4,855.8 37.6,858.8 31.2,855.3" fill="#8A6E48" stroke="#30261A" stroke-width="0.7"/>
<polygon points="101.6,868.3 105.5,867.8 108.8,868.8 108.1,871.7 104.1,873.6 102.3,871.0" fill="#5C523A" stroke="#30261A" stroke-width="0.7"/>
<polygon points="102.5,843.6 97.3,846.6 93.8,841.1 94.8,834.7 98.7,833.1 102.4,837.5" fill="#5E5640" stroke="#30261A" stroke-width="0.7"/>
<polygon points="69.7,891.2 72.6,892.9 74.2,896.5 70.9,898.5 66.4,898.5 66.7,894.0" fill="#7E6A46" stroke="#30261A" stroke-width="0.7"/>
<polygon points="2.8,900.7 3.9,894.3 10.0,893.6 13.9,898.2 13.6,904.0 7.4,904.8" fill="#7E6A46" stroke="#30261A" stroke-width="0.7"/>
<polygon points="23.8,858.2 23.0,855.3 25.5,853.9 26.3,856.9" fill="#A88058" stroke="#30261A" stroke-width="0.7"/>
<polygon points="22.3,913.2 25.3,915.7 25.2,919.8 21.5,920.4 18.6,918.8 18.6,915.0" fill="#A88058" stroke="#30261A" stroke-width="0.7"/>
<polygon points="82.8,832.0 87.9,830.7 89.4,835.7 87.2,839.3 83.0,838.7 82.0,835.0" fill="#76643F" stroke="#30261A" stroke-width="0.7"/>
<polygon points="114.6,892.5 112.1,896.9 105.9,896.5 104.9,891.8 108.7,888.6" fill="#C89A6C" stroke="#30261A" stroke-width="0.7"/>
<polygon points="64.9,911.1 63.6,908.1 67.6,906.6 70.8,907.0 70.8,910.4 67.8,912.3" fill="#7E6A46" stroke="#30261A" stroke-width="0.7"/>
<polygon points="83.4,859.9 81.5,856.6 86.3,853.3 88.4,858.4" fill="#5E5640" stroke="#30261A" stroke-width="0.7"/>
<polygon points="100.4,839.3 97.2,837.3 99.7,834.6 103.2,833.8 103.6,838.1" fill="#8A6E48" stroke="#30261A" stroke-width="0.7"/>
<polygon points="70.6,863.8 67.3,855.2 76.4,852.5 79.4,864.5" fill="#3C382C" stroke="#30261A" stroke-width="0.7"/>
<polygon points="27.4,844.0 29.5,840.5 32.6,842.3 34.3,845.0 31.5,846.5 28.8,846.1" fill="#C89A6C" stroke="#30261A" stroke-width="0.7"/>
<polygon points="49.1,878.9 45.2,883.7 40.1,878.5 45.8,874.6" fill="#4A4636" stroke="#30261A" stroke-width="0.7"/>
<polygon points="36.0,886.6 33.8,884.5 36.0,882.4 38.4,883.5 38.4,886.1" fill="#3C382C" stroke="#30261A" stroke-width="0.7"/>
<polygon points="19.6,859.7 18.1,864.2 14.2,864.0 11.9,859.9 15.4,858.2" fill="#76643F" stroke="#30261A" stroke-width="0.7"/>
<polygon points="4.6,884.8 9.3,885.1 8.8,890.2 4.4,889.4" fill="#A88058" stroke="#30261A" stroke-width="0.7"/>
<polygon points="100.9,883.7 102.8,885.9 100.0,887.1 98.4,885.3" fill="#5E5640" stroke="#30261A" stroke-width="0.7"/>
<polygon points="29.4,906.8 32.6,912.6 30.1,921.0 23.8,916.5 24.2,910.5" fill="#B8895C" stroke="#30261A" stroke-width="0.7"/>
<polygon points="69.0,916.1 66.6,913.9 66.8,910.1 70.6,910.5 73.4,914.6" fill="#B8895C" stroke="#30261A" stroke-width="0.7"/>
<polygon points="81.7,898.8 83.7,891.2 91.2,892.0 89.7,899.1" fill="#8A6E48" stroke="#30261A" stroke-width="0.7"/>
<polygon points="32.0,878.0 33.7,878.9 34.1,881.1 32.1,881.7 30.7,880.6 30.1,879.1" fill="#6E5C3E" stroke="#30261A" stroke-width="0.7"/>
<polygon points="65.2,820.8 69.3,821.2 70.6,824.0 66.6,826.7 63.4,823.8" fill="#A88058" stroke="#30261A" stroke-width="0.7"/>
<polygon points="71.5,886.7 75.4,885.9 76.1,889.8 72.2,889.5" fill="#6E5C3E" stroke="#30261A" stroke-width="0.7"/>
<polygon points="62.0,883.2 61.7,876.8 67.2,873.8 71.9,878.1 68.8,884.5" fill="#A88058" stroke="#30261A" stroke-width="0.7"/>
<polygon points="27.0,875.7 24.5,874.9 22.2,872.6 24.4,870.4 26.7,869.2 28.4,872.4" fill="#A88058" stroke="#30261A" stroke-width="0.7"/>
<polygon points="53.7,919.0 51.6,922.2 46.9,922.1 44.1,919.5 46.4,916.7 50.2,915.0" fill="#6A5A3E" stroke="#30261A" stroke-width="0.7"/>
<polygon points="82.5,909.1 84.6,914.3 80.0,919.9 75.3,917.5 71.9,912.9 76.0,908.6" fill="#A88058" stroke="#30261A" stroke-width="0.7"/>
<polygon points="52.5,869.8 58.0,871.3 58.8,879.3 52.2,881.5 49.4,874.2" fill="#6A5A3E" stroke="#30261A" stroke-width="0.7"/>
<polygon points="84.5,913.2 85.0,919.1 77.8,921.6 75.1,913.9" fill="#C89A6C" stroke="#30261A" stroke-width="0.7"/>
<polygon points="91.5,890.0 98.1,883.2 105.3,888.3 106.0,894.0 96.9,895.6" fill="#4A4636" stroke="#30261A" stroke-width="0.7"/>
<polygon points="26.2,884.1 32.4,882.7 34.2,886.9 29.6,888.6" fill="#8A6E48" stroke="#30261A" stroke-width="0.7"/>
<polygon points="41.5,838.6 37.2,845.2 30.2,839.1 36.7,831.2" fill="#7E6A46" stroke="#30261A" stroke-width="0.7"/>
<polygon points="51.0,899.1 48.2,894.5 54.7,892.8 58.9,898.3" fill="#B8895C" stroke="#30261A" stroke-width="0.7"/>
<polygon points="11.1,824.8 13.7,820.5 16.6,821.0 17.9,823.2 17.9,826.4 14.5,828.2" fill="#A88058" stroke="#30261A" stroke-width="0.7"/>
<polygon points="18.6,871.4 15.8,871.8 14.8,869.6 16.1,867.4 18.3,868.2" fill="#6E5C3E" stroke="#30261A" stroke-width="0.7"/>
<polygon points="16.9,857.8 17.3,855.9 19.6,855.3 20.8,856.9 20.6,859.3 18.4,859.9" fill="#76643F" stroke="#30261A" stroke-width="0.7"/>
<polygon points="13.4,915.2 6.8,913.6 5.3,909.2 7.5,904.2 13.7,902.6 19.2,909.8" fill="#3C382C" stroke="#30261A" stroke-width="0.7"/>
<polygon points="82.7,828.6 87.2,822.9 96.7,822.7 97.8,831.6 89.7,833.3" fill="#6A5A3E" stroke="#30261A" stroke-width="0.7"/>
<polygon points="43.8,849.4 42.5,846.2 44.4,843.2 48.5,841.9 50.8,847.1 48.5,849.4" fill="#6E5C3E" stroke="#30261A" stroke-width="0.7"/>
<polygon points="12.3,830.6 17.3,830.5 20.4,833.4 19.1,839.3 14.9,839.5 11.4,836.2" fill="#C89A6C" stroke="#30261A" stroke-width="0.7"/>
<polygon points="39.7,846.6 42.7,849.0 39.5,851.2 36.8,848.7" fill="#C89A6C" stroke="#30261A" stroke-width="0.7"/>
<polygon points="84.9,863.9 82.8,868.6 73.8,869.1 75.4,860.9 80.8,857.5" fill="#3C382C" stroke="#30261A" stroke-width="0.7"/>
<polygon points="43.0,838.9 43.4,842.8 40.4,842.7 39.7,839.3" fill="#B8895C" stroke="#30261A" stroke-width="0.7"/>
<polygon points="65.8,881.4 71.3,880.8 71.5,885.5 66.8,885.2" fill="#8A6E48" stroke="#30261A" stroke-width="0.7"/>
<polygon points="5.8,843.0 9.4,841.4 13.0,841.7 14.5,845.8 10.4,849.3 6.7,846.5" fill="#A88058" stroke="#30261A" stroke-width="0.7"/>
<polygon points="75.7,851.8 68.4,852.9 65.7,847.5 70.3,844.5 76.1,846.1" fill="#5C523A" stroke="#30261A" stroke-width="0.7"/>
<polygon points="71.8,880.1 71.9,875.1 76.2,876.0 74.9,880.2" fill="#C89A6C" stroke="#30261A" stroke-width="0.7"/>
<polygon points="28.1,873.5 32.2,876.3 33.5,881.0 29.4,884.2 24.6,882.2 23.6,877.0" fill="#4A4636" stroke="#30261A" stroke-width="0.7"/>
<polygon points="22.9,822.5 16.3,821.1 14.5,815.0 21.1,810.7 26.5,816.1" fill="#B8895C" stroke="#30261A" stroke-width="0.7"/>
<polygon points="11.4,877.1 1.6,873.3 6.5,865.3 16.2,869.6" fill="#76643F" stroke="#30261A" stroke-width="0.7"/>
<polygon points="15.1,820.3 17.1,822.0 15.2,823.8 12.9,823.6 10.9,821.6 12.8,819.1" fill="#6A5A3E" stroke="#30261A" stroke-width="0.7"/>
<polygon points="35.8,819.6 36.7,815.9 39.0,813.6 41.9,814.1 43.7,818.8 40.3,821.1" fill="#A88058" stroke="#30261A" stroke-width="0.7"/>
<polygon points="67.3,882.3 68.9,886.1 68.4,890.0 65.0,889.7 62.1,887.2 64.1,884.2" fill="#A88058" stroke="#30261A" stroke-width="0.7"/>
<polygon points="101.2,890.0 97.6,892.2 93.7,888.2 99.4,886.2" fill="#907450" stroke="#30261A" stroke-width="0.7"/>
<polygon points="109.0,831.5 111.8,828.8 114.3,831.7 113.3,834.5 111.5,834.9 109.2,834.3" fill="#5C523A" stroke="#30261A" stroke-width="0.7"/>
<polygon points="40.3,828.5 40.0,823.2 45.2,822.9 45.3,827.0" fill="#5C523A" stroke="#30261A" stroke-width="0.7"/>
<polygon points="112.6,910.3 116.8,915.8 111.9,920.8 107.5,917.7 107.3,912.5" fill="#907450" stroke="#30261A" stroke-width="0.7"/>
<polygon points="71.6,908.1 75.7,902.1 84.0,905.6 78.4,910.8" fill="#4A4636" stroke="#30261A" stroke-width="0.7"/>
<polygon points="42.0,835.5 44.9,837.5 43.5,839.9 40.5,838.8" fill="#B8895C" stroke="#30261A" stroke-width="0.7"/>
<polygon points="58.5,910.2 63.7,912.6 63.6,916.2 60.5,920.7 56.4,917.8 55.6,912.9" fill="#907450" stroke="#30261A" stroke-width="0.7"/>
<polygon points="18.7,840.2 17.3,842.4 13.5,841.0 16.4,838.3" fill="#3C382C" stroke="#30261A" stroke-width="0.7"/>
<polygon points="83.8,846.1 81.6,842.9 82.9,839.6 88.8,840.0 89.1,844.4" fill="#4A4636" stroke="#30261A" stroke-width="0.7"/>
<polygon points="44.1,860.8 48.1,860.2 50.4,863.2 47.9,867.8 42.5,865.4" fill="#76643F" stroke="#30261A" stroke-width="0.7"/>
<polygon points="15.0,908.1 19.1,904.7 21.9,909.5 17.6,912.3" fill="#5E5640" stroke="#30261A" stroke-width="0.7"/>
<polygon points="5.4,833.1 5.1,830.2 6.1,828.0 8.1,827.9 9.8,830.7 8.0,833.0" fill="#B8895C" stroke="#30261A" stroke-width="0.7"/>
<polygon points="35.2,826.8 36.9,835.4 28.1,838.7 25.9,826.9" fill="#3C382C" stroke="#30261A" stroke-width="0.7"/>
<polygon points="120.4,878.3 117.0,884.9 109.8,882.9 108.3,877.6 111.0,871.4 116.5,871.7" fill="#A88058" stroke="#30261A" stroke-width="0.7"/>
<polygon points="29.3,889.4 26.2,892.0 24.0,887.7 24.9,884.2 29.3,885.1" fill="#C89A6C" stroke="#30261A" stroke-width="0.7"/>
<polygon points="103.4,888.6 98.3,889.8 93.2,888.0 97.3,882.5 101.2,883.1" fill="#3C382C" stroke="#30261A" stroke-width="0.7"/>
<polygon points="108.1,826.1 102.9,823.9 104.1,818.1 109.7,817.6 111.9,821.8" fill="#907450" stroke="#30261A" stroke-width="0.7"/>
<polygon points="109.2,834.8 105.7,839.0 100.7,835.7 104.8,831.4" fill="#6A5A3E" stroke="#30261A" stroke-width="0.7"/>
<polygon points="109.2,876.6 109.2,872.9 113.3,872.9 113.2,877.3" fill="#8A6E48" stroke="#30261A" stroke-width="0.7"/>
<polygon points="51.1,845.5 46.4,839.6 50.7,834.9 55.6,839.2" fill="#4A4636" stroke="#30261A" stroke-width="0.7"/>
<polygon points="51.9,887.1 49.6,884.8 52.7,882.6 54.8,885.5" fill="#8A6E48" stroke="#30261A" stroke-width="0.7"/>
<polygon points="99.4,873.6 94.6,870.6 95.1,866.9 99.4,867.4" fill="#76643F" stroke="#30261A" stroke-width="0.7"/>
<polygon points="50.4,886.4 51.8,880.1 55.9,879.4 60.2,883.2 55.9,886.6" fill="#3C382C" stroke="#30261A" stroke-width="0.7"/>
<polygon points="95.0,831.9 98.0,833.7 96.4,837.1 94.7,837.5 93.0,836.7 92.8,833.6" fill="#B8895C" stroke="#30261A" stroke-width="0.7"/>
<polygon points="47.8,827.7 53.7,824.9 57.8,828.5 60.0,836.3 52.9,839.1 46.3,835.2" fill="#4A4636" stroke="#30261A" stroke-width="0.7"/>
<polygon points="61.1,836.5 62.8,833.4 66.6,835.6 66.2,839.9 61.9,841.1" fill="#6E5C3E" stroke="#30261A" stroke-width="0.7"/>
<polygon points="93.0,898.0 86.7,894.2 88.9,887.5 94.4,889.9" fill="#8A6E48" stroke="#30261A" stroke-width="0.7"/>
<polygon points="23.6,878.5 28.7,879.8 30.6,886.3 23.1,888.1 20.8,883.3" fill="#C89A6C" stroke="#30261A" stroke-width="0.7"/>
<polygon points="15.4,920.7 9.0,919.8 9.2,915.1 12.8,912.9 17.6,913.1 17.3,918.2" fill="#B8895C" stroke="#30261A" stroke-width="0.7"/>
<polygon points="81.1,872.9 87.4,869.8 89.9,874.6 85.3,880.0" fill="#4A4636" stroke="#30261A" stroke-width="0.7"/>
<polygon points="30.4,820.3 28.2,821.6 27.2,818.2 28.0,816.4 30.8,815.9 31.3,818.5" fill="#6E5C3E" stroke="#30261A" stroke-width="0.7"/>
<polygon points="11.5,860.5 6.3,857.3 4.3,853.2 6.9,847.9 13.3,848.5 13.8,854.1" fill="#8A6E48" stroke="#30261A" stroke-width="0.7"/>
<polygon points="53.4,876.0 57.9,878.4 58.6,882.2 54.1,883.9 51.0,880.6" fill="#8A6E48" stroke="#30261A" stroke-width="0.7"/>
<polygon points="58,897.5 82,873.5 87,879.5 76,901.5 62,919.5 54,917.5" fill="#5C5646" stroke="#2A241A" stroke-width="0.7"/><polygon points="48,841.5 64,825.5 76,833.5 66,853.5 52,853.5" fill="#7C6448" stroke="#2A241A" stroke-width="0.7"/><polygon points="90,843.5 100,847.5 104,865.5 96,873.5 88,861.5" fill="#7E6A46" stroke="#2A241A" stroke-width="0.7"/><polygon points="18,859.5 30,853.5 34,869.5 24,879.5 16,873.5" fill="#A07850" stroke="#2A241A" stroke-width="0.7"/><polygon points="60,857.5 74,853.5 78,865.5 66,871.5" fill="#C4946A" stroke="#2A241A" stroke-width="0.6"/>
</g>
<g clip-path="url(#slc2)"><rect x="0" y="937.7" width="120" height="120" fill="#fff"/>
<path d="M10,968.7 C40,974.7 55,992.7 75,996.7 S100,1004.7 112,1008.7" fill="none" stroke="#CDBDEA" stroke-width="5.5"/>
<path d="M10,973.3 C40,979.3 55,997.3 75,1001.3 S100,1009.3 112,1013.3" fill="none" stroke="#F6F6B8" stroke-width="3.6"/>
<path d="M10,976.5 C40,982.5 55,1000.5 75,1004.5 S100,1012.5 112,1016.5" fill="none" stroke="#C6E222" stroke-width="3"/>
<path d="M10,979.1 C40,985.1 55,1003.1 75,1007.1 S100,1015.1 112,1019.1" fill="none" stroke="#A01212" stroke-width="2.6"/>
<path d="M43,954.7 V1002.7" stroke="#111" stroke-width="1.2"/>
<path d="M43,954.7 L41.4,956.3 L40.5,957.9 L44.2,959.5 L42.0,961.1 L42.7,962.7 L42.3,964.3 L44.1,965.9 L44.6,967.5 L41.5,969.1 L42.2,970.7 L43.4,972.3 L43.0,973.9 L45.2,975.5 L41.6,977.1 L41.1,978.7 L42.0,980.3 L43.3,981.9 L41.0,983.5 L41.3,985.1 L45.0,986.7 L42.6,988.3 L44.5,989.9 L42.4,991.5 L42.9,993.1 L45.5,994.7 L42.9,996.3 L41.1,997.9 L41.5,999.5 L43.7,1001.1 L43.4,1002.7" stroke="#E8E020" stroke-width="3" fill="none" stroke-dasharray="3 2.2"/><path d="M43,954.7 L41.4,956.3 L40.5,957.9 L44.2,959.5 L42.0,961.1 L42.7,962.7 L42.3,964.3 L44.1,965.9 L44.6,967.5 L41.5,969.1 L42.2,970.7 L43.4,972.3 L43.0,973.9 L45.2,975.5 L41.6,977.1 L41.1,978.7 L42.0,980.3 L43.3,981.9 L41.0,983.5 L41.3,985.1 L45.0,986.7 L42.6,988.3 L44.5,989.9 L42.4,991.5 L42.9,993.1 L45.5,994.7 L42.9,996.3 L41.1,997.9 L41.5,999.5 L43.7,1001.1 L43.4,1002.7" stroke="#111" stroke-width="1.5" fill="none" transform="translate(-1.2,0)"/>
<path d="M61,954.7 V1009.7" stroke="#111" stroke-width="1.2"/>
<path d="M61,954.7 L63.3,956.3 L59.9,957.9 L59.9,959.5 L61.7,961.1 L62.3,962.7 L63.0,964.3 L58.7,965.9 L63.0,967.5 L62.3,969.1 L60.1,970.7 L62.8,972.3 L60.1,973.9 L63.1,975.5 L61.7,977.1 L58.9,978.7 L61.8,980.3 L61.7,981.9 L63.0,983.5 L59.6,985.1 L60.1,986.7 L61.8,988.3 L63.4,989.9 L58.7,991.5 L61.1,993.1 L63.1,994.7 L61.0,996.3 L59.6,997.9 L62.7,999.5 L59.3,1001.1 L62.7,1002.7 L62.7,1004.3 L63.2,1005.9 L60.5,1007.5 L60.2,1009.1 L60.8,1010.7" stroke="#E8E020" stroke-width="3" fill="none" stroke-dasharray="3 2.2"/><path d="M61,954.7 L63.3,956.3 L59.9,957.9 L59.9,959.5 L61.7,961.1 L62.3,962.7 L63.0,964.3 L58.7,965.9 L63.0,967.5 L62.3,969.1 L60.1,970.7 L62.8,972.3 L60.1,973.9 L63.1,975.5 L61.7,977.1 L58.9,978.7 L61.8,980.3 L61.7,981.9 L63.0,983.5 L59.6,985.1 L60.1,986.7 L61.8,988.3 L63.4,989.9 L58.7,991.5 L61.1,993.1 L63.1,994.7 L61.0,996.3 L59.6,997.9 L62.7,999.5 L59.3,1001.1 L62.7,1002.7 L62.7,1004.3 L63.2,1005.9 L60.5,1007.5 L60.2,1009.1 L60.8,1010.7" stroke="#111" stroke-width="1.5" fill="none" transform="translate(-1.2,0)"/>
<path d="M79,954.7 V1025.7" stroke="#111" stroke-width="1.2"/>
<path d="M79,954.7 L81.4,956.3 L77.6,957.9 L79.4,959.5 L78.2,961.1 L79.5,962.7 L79.4,964.3 L78.3,965.9 L79.1,967.5 L78.0,969.1 L80.9,970.7 L79.4,972.3 L80.2,973.9 L79.1,975.5 L78.7,977.1 L80.2,978.7 L80.9,980.3 L79.7,981.9 L79.0,983.5 L80.8,985.1 L77.4,986.7 L76.9,988.3 L78.8,989.9 L81.2,991.5 L79.0,993.1 L80.8,994.7 L78.0,996.3 L80.3,997.9 L78.1,999.5 L77.7,1001.1 L81.0,1002.7 L79.9,1004.3 L80.2,1005.9 L77.6,1007.5 L78.3,1009.1 L77.6,1010.7 L77.9,1012.3 L78.2,1013.9 L76.7,1015.5 L81.4,1017.1 L80.2,1018.7 L77.5,1020.3 L78.0,1021.9 L77.3,1023.5 L77.3,1025.1 L78.9,1026.7" stroke="#E8E020" stroke-width="3" fill="none" stroke-dasharray="3 2.2"/><path d="M79,954.7 L81.4,956.3 L77.6,957.9 L79.4,959.5 L78.2,961.1 L79.5,962.7 L79.4,964.3 L78.3,965.9 L79.1,967.5 L78.0,969.1 L80.9,970.7 L79.4,972.3 L80.2,973.9 L79.1,975.5 L78.7,977.1 L80.2,978.7 L80.9,980.3 L79.7,981.9 L79.0,983.5 L80.8,985.1 L77.4,986.7 L76.9,988.3 L78.8,989.9 L81.2,991.5 L79.0,993.1 L80.8,994.7 L78.0,996.3 L80.3,997.9 L78.1,999.5 L77.7,1001.1 L81.0,1002.7 L79.9,1004.3 L80.2,1005.9 L77.6,1007.5 L78.3,1009.1 L77.6,1010.7 L77.9,1012.3 L78.2,1013.9 L76.7,1015.5 L81.4,1017.1 L80.2,1018.7 L77.5,1020.3 L78.0,1021.9 L77.3,1023.5 L77.3,1025.1 L78.9,1026.7" stroke="#111" stroke-width="1.5" fill="none" transform="translate(-1.2,0)"/>
<path d="M45,954.7 V1027.7 M41,952.7 H80 M41,1042.7 H80" stroke="#999" stroke-width="0.8"/>
</g>
<g clip-path="url(#slc3)"><rect x="0" y="1068.3" width="120" height="120" filter="url(#rockG)"/>
<rect x="0" y="1068.3" width="120" height="26" fill="#fff"/><rect x="14" y="1091.3" width="90" height="8" fill="#0A0A0A"/><path d="M38,1088.3 v8 M46,1084.3 v14 M56,1088.3 v10 M60,1080.3 v18 M70,1090.3 v6" stroke="#555" stroke-width="1"/><path d="M40,1092.3 h3 M52,1092.3 h3 M58,1092.3 h2" stroke="#fff" stroke-width="3"/>
<path d="M17,1103.3 H66 C60,1122.3 42,1130.3 17,1134.3 Z" fill="#E8B060"/><path d="M17,1103.3 H52 C48,1116.3 36,1122.3 17,1124.3 Z" fill="#F0C890"/><path d="M66,1103.3 C60,1122.3 42,1130.3 17,1134.3" fill="none" stroke="#C88830" stroke-width="1.5"/>
<rect x="12" y="1100.3" width="5" height="70" fill="#0A0A0A"/><rect x="101.5" y="1100.3" width="6" height="70" fill="#0A0A0A"/>
<g fill="none" stroke="#FF3030" stroke-width="1.4"><path d="M18,1143.3 C30,1142.3 40,1130.3 56,1122.3 S66,1114.3 70,1106.3"/><path d="M30,1144.3 C44,1132.3 56,1128.3 66,1126.3 S88,1134.3 100,1140.3"/><path d="M66,1106.3 C76,1118.3 90,1126.3 100,1136.3"/><path d="M70,1106.3 C82,1114.3 92,1120.3 100,1126.3"/><path d="M30,1144.3 C40,1154.3 50,1162.3 58,1170.3"/><path d="M18,1143.3 C30,1150.3 40,1152.3 50,1162.3"/><path d="M56,1130.3 C70,1138.3 86,1146.3 98,1152.3"/><path d="M64,1082.3 l4,8 M70,1082.3 l3,7"/></g>
<g fill="none" stroke="#10C030" stroke-width="2.4"><path d="M34,1145.3 C46,1144.3 56,1134.3 70,1132.3 S84,1134.3 92,1135.3"/><path d="M70,1126.3 C76,1122.3 84,1120.3 92,1118.3"/><path d="M78,1100.3 l6,-2 4,4 8,-6"/><path d="M20,1157.3 C30,1161.3 40,1162.3 48,1163.3"/><path d="M94,1108.3 l8,-4"/></g>
</g>
<circle cx="59.7" cy="736.4" r="50.0" fill="none" stroke="#2273B5" stroke-width="4.4"/>
<circle cx="59.7" cy="867.5" r="50.0" fill="none" stroke="#2273B5" stroke-width="4.4"/>
<circle cx="59.7" cy="997.7" r="50.0" fill="none" stroke="#2273B5" stroke-width="4.4"/>
<circle cx="59.7" cy="1128.3" r="50.0" fill="none" stroke="#2273B5" stroke-width="4.4"/>
<defs>
<clipPath id="src0"><circle cx="2048" cy="791.4" r="56.3"/></clipPath>
<clipPath id="src1"><circle cx="2048" cy="940.9" r="56.3"/></clipPath>
<clipPath id="src2"><circle cx="2048" cy="1089.5" r="56.3"/></clipPath>
</defs>
<g clip-path="url(#src0)"><rect x="1986" y="729.4" width="124" height="124" fill="#fff"/>
<path d="M2046.0,733.4 L2051.3,734.1 L2055.2,734.8 L2056.5,735.5 L2055.0,736.2 L2051.0,736.9 L2045.6,737.6 L2040.4,738.3 L2036.7,739.0 L2035.5,739.7 L2037.3,740.4 L2041.4,741.1 L2046.8,741.8 L2052.0,742.5 L2055.5,743.2 L2056.5,743.9 L2054.5,744.6 L2050.2,745.3 L2044.8,746.0 L2039.7,746.7 L2036.3,747.4 L2035.6,748.1 L2037.7,748.8 L2042.1,749.5 L2047.6,750.2 L2052.6,750.9 L2055.8,751.6 L2056.3,752.3 L2054.0,753.0 L2049.5,753.7 L2044.1,754.4 L2039.3,755.1 L2036.4,755.8 L2036.2,756.5 L2038.7,757.2 L2043.1,757.9 L2048.2,758.6 L2052.6,759.3 L2055.1,760.0 L2055.1,760.7 L2052.6,761.4 L2048.4,762.1 L2043.6,762.8 L2039.6,763.5 L2037.4,764.2 L2037.6,764.9 L2040.0,765.6 L2044.1,766.3 L2048.5,767.0 L2052.2,767.7 L2054.1,768.4 L2053.8,769.1 L2051.4,769.8 L2047.5,770.5 L2043.3,771.2 L2039.9,771.9 L2038.3,772.6 L2038.7,773.3 L2041.1,774.0 L2044.8,774.7 L2048.8,775.4 L2051.9,776.1 L2053.4,776.8 L2052.8,777.5 L2050.4,778.2 L2046.8,778.9 L2043.1,779.6 L2040.1,780.3 L2038.8,781.0 L2039.5,781.7 L2041.9,782.4 L2045.5,783.1 L2049.1,783.8 L2051.9,784.5 L2053.0,785.2 L2052.3,785.9 L2049.8,786.6 L2046.3,787.3 L2042.7,788.0 L2040.0,788.7 L2039.0,789.4 L2039.9,790.1 L2042.5,790.8 L2046.0,791.5 L2049.6,792.2 L2052.2,792.9 L2053.1,793.6 L2052.1,794.3 L2049.4,795.0 L2045.7,795.7 L2042.1,796.4 L2039.5,797.1 L2038.7,797.8 L2039.9,798.5 L2042.8,799.2 L2046.6,799.9 L2050.3,800.6 L2052.9,801.3 L2053.6,802.0 L2052.2,802.7 L2049.1,803.4 L2045.1,804.1 L2041.3,804.8 L2038.6,805.5 L2038.0,806.2 L2039.6,806.9 L2043.0,807.6 L2047.3,808.3 L2051.3,809.0 L2053.9,809.7 L2054.4,810.4 L2052.6,811.1 L2048.9,811.8 L2044.3,812.5 L2040.1,813.2 L2037.4,813.9 L2037.0,814.6 L2039.2,815.3 L2043.2,816.0 L2048.1,816.7 L2052.6,817.4 L2055.3,818.1 L2055.5,818.8 L2053.1,819.5 L2048.6,820.2 L2043.4,820.9 L2038.7,821.6 L2036.0,822.3 L2036.0,823.0 L2038.8,823.7 L2043.6,824.4 L2049.1,825.1 L2053.8,825.8 L2056.3,826.5 L2056.0,827.2 L2052.9,827.9 L2048.3,828.6 L2042.0,829.3 L2036.8,830.0 L2034.2,830.7 L2034.8,831.4 L2038.4,832.1 L2044.2,832.8 L2050.4,833.5 L2055.5,834.2 L2057.9,834.9 L2057.1,835.6 L2053.2,836.3 L2047.4,837.0 L2041.1,837.7 L2036.3,838.4 L2034.1,839.1 L2035.1,839.8 L2039.2,840.5 L2045.1,841.2 L2051.3,841.9 L2056.0,842.6 L2058.0,843.3 L2056.7,844.0 L2052.5,844.7 L2046.5,845.4 L2040.3,846.1 L2035.8,846.8 L2034.0,847.5 L2035.5,848.2 L2039.9,848.9" fill="none" stroke="#34449C" stroke-width="1.5"/><path d="M2046.0,733.4 L2051.3,734.1 L2055.2,734.8 L2056.5,735.5 L2055.0,736.2 L2051.0,736.9 L2045.6,737.6 L2040.4,738.3 L2036.7,739.0 L2035.5,739.7 L2037.3,740.4 L2041.4,741.1 L2046.8,741.8 L2052.0,742.5 L2055.5,743.2 L2056.5,743.9 L2054.5,744.6 L2050.2,745.3 L2044.8,746.0 L2039.7,746.7 L2036.3,747.4 L2035.6,748.1 L2037.7,748.8 L2042.1,749.5 L2047.6,750.2 L2052.6,750.9 L2055.8,751.6 L2056.3,752.3 L2054.0,753.0 L2049.5,753.7 L2044.1,754.4 L2039.3,755.1 L2036.4,755.8 L2036.2,756.5 L2038.7,757.2 L2043.1,757.9 L2048.2,758.6 L2052.6,759.3 L2055.1,760.0 L2055.1,760.7 L2052.6,761.4 L2048.4,762.1 L2043.6,762.8 L2039.6,763.5 L2037.4,764.2 L2037.6,764.9 L2040.0,765.6 L2044.1,766.3 L2048.5,767.0 L2052.2,767.7 L2054.1,768.4 L2053.8,769.1 L2051.4,769.8 L2047.5,770.5 L2043.3,771.2 L2039.9,771.9 L2038.3,772.6 L2038.7,773.3 L2041.1,774.0 L2044.8,774.7 L2048.8,775.4 L2051.9,776.1 L2053.4,776.8 L2052.8,777.5 L2050.4,778.2 L2046.8,778.9 L2043.1,779.6 L2040.1,780.3 L2038.8,781.0 L2039.5,781.7 L2041.9,782.4 L2045.5,783.1 L2049.1,783.8 L2051.9,784.5 L2053.0,785.2 L2052.3,785.9 L2049.8,786.6 L2046.3,787.3 L2042.7,788.0 L2040.0,788.7 L2039.0,789.4 L2039.9,790.1 L2042.5,790.8 L2046.0,791.5 L2049.6,792.2 L2052.2,792.9 L2053.1,793.6 L2052.1,794.3 L2049.4,795.0 L2045.7,795.7 L2042.1,796.4 L2039.5,797.1 L2038.7,797.8 L2039.9,798.5 L2042.8,799.2 L2046.6,799.9 L2050.3,800.6 L2052.9,801.3 L2053.6,802.0 L2052.2,802.7 L2049.1,803.4 L2045.1,804.1 L2041.3,804.8 L2038.6,805.5 L2038.0,806.2 L2039.6,806.9 L2043.0,807.6 L2047.3,808.3 L2051.3,809.0 L2053.9,809.7 L2054.4,810.4 L2052.6,811.1 L2048.9,811.8 L2044.3,812.5 L2040.1,813.2 L2037.4,813.9 L2037.0,814.6 L2039.2,815.3 L2043.2,816.0 L2048.1,816.7 L2052.6,817.4 L2055.3,818.1 L2055.5,818.8 L2053.1,819.5 L2048.6,820.2 L2043.4,820.9 L2038.7,821.6 L2036.0,822.3 L2036.0,823.0 L2038.8,823.7 L2043.6,824.4 L2049.1,825.1 L2053.8,825.8 L2056.3,826.5 L2056.0,827.2 L2052.9,827.9 L2048.3,828.6 L2042.0,829.3 L2036.8,830.0 L2034.2,830.7 L2034.8,831.4 L2038.4,832.1 L2044.2,832.8 L2050.4,833.5 L2055.5,834.2 L2057.9,834.9 L2057.1,835.6 L2053.2,836.3 L2047.4,837.0 L2041.1,837.7 L2036.3,838.4 L2034.1,839.1 L2035.1,839.8 L2039.2,840.5 L2045.1,841.2 L2051.3,841.9 L2056.0,842.6 L2058.0,843.3 L2056.7,844.0 L2052.5,844.7 L2046.5,845.4 L2040.3,846.1 L2035.8,846.8 L2034.0,847.5 L2035.5,848.2 L2039.9,848.9" fill="none" stroke="#A8B4E8" stroke-width="0.7" transform="translate(0.9,0.3)"/>
<path d="M2072,739.4 L2079.5,740.8 L2080.1,742.2 L2082.5,743.6 L2079.2,745.0 L2079.4,746.4 L2079.8,747.8 L2076.8,749.2 L2079.0,750.6 L2079.6,752.0 L2080.7,753.4 L2075.6,754.8 L2076.9,756.2 L2075.3,757.6 L2080.2,759.0 L2079.3,760.4 L2074.6,761.8 L2081.0,763.2 L2080.7,764.6 L2078.4,766.0 L2078.0,767.4 L2074.7,768.8 L2073.5,770.2 L2077.0,771.6 L2073.6,773.0 L2074.3,774.4 L2074.6,775.8 L2072.9,777.2 L2075.8,778.6 L2075.5,780.0 L2078.2,781.4 L2075.8,782.8 L2076.5,784.2 L2075.4,785.6 L2076.4,787.0 L2074.8,788.4 L2073.4,789.8 L2078.3,791.2 L2078.1,792.6 L2076.9,794.0 L2075.9,795.4 L2073.0,796.8 L2072.2,798.2 L2072.5,799.6 L2070.8,801.0 L2075.6,802.4 L2072.9,803.8 L2075.8,805.2 L2072.5,806.6 L2076.3,808.0 L2075.4,809.4 L2069.4,810.8 L2070.7,812.2 L2075.5,813.6 L2072.2,815.0 L2075.7,816.4 L2071.4,817.8 L2069.0,819.2 L2072.8,820.6 L2073.7,822.0 L2070.0,823.4 L2068.6,824.8 L2070.1,826.2 L2074.4,827.6 L2072.8,829.0 L2068.2,830.4 L2069.0,831.8 L2067.8,833.2 L2067.4,834.6 L2072.4,836.0 L2067.9,837.4 L2070.5,838.8 L2069.6,840.2 L2067.6,841.6 L2071.3,843.0 L2066.9,844.4" fill="none" stroke="#0A8A30" stroke-width="2.1"/>
<path d="M2084,746.4 V831.4 M2103,779.4 v8 M2102,797.4 v8" stroke="#555" stroke-width="1"/>
<path d="M2020,745.4 L2031,789.4 M2033,803.4 L2026,843.4" stroke="#111" stroke-width="1"/><circle cx="2033" cy="802.4" r="1.6" fill="#111"/><path d="M1994,793.4 H2012" stroke="#333" stroke-width="1.6" stroke-dasharray="1.6 1.6"/>
</g>
<g clip-path="url(#src1)"><rect x="1986" y="878.9" width="124" height="124" fill="#fff"/>
<path d="M2046,880.9 V1000.9 M1986,943.9 H2110" stroke="#AAA" stroke-width="1.6"/><path d="M2049,880.9 V1000.9 M1986,946.9 H2110" stroke="#DDD" stroke-width="1"/>
<polygon points="1995,900.9 2033,904.9 2033,911.9 1995,910.9" fill="#F23A1A"/><polygon points="1997,920.9 2033,916.9 2033,919.9 1997,924.9" fill="#F23A1A"/>
<polygon points="2056,902.9 2092,902.9 2092,907.9 2070,909.9 2056,909.9" fill="#F23A1A"/><polygon points="2056,920.9 2092,916.9 2092,920.9 2056,923.9" fill="#F23A1A"/>
<polygon points="1993,963.9 2033,970.9 2033,964.9 2016,964.9" fill="#F23A1A"/><polygon points="1996,978.9 2033,972.9 2033,976.9 1996,982.9" fill="#F23A1A"/><polygon points="2010,970.9 2033,964.9 2033,970.9 2018,972.9" fill="#F23A1A"/>
<polygon points="2056,962.9 2092,982.9 2092,988.9 2056,974.9" fill="#F23A1A"/><polygon points="2068,952.9 2092,966.9 2092,974.9 2062,954.9" fill="#F23A1A"/><polygon points="2056,980.9 2080,992.9 2070,994.9 2056,986.9" fill="#F23A1A"/>
<rect x="1999" y="914.9" width="2.6" height="16" fill="#1838D0"/><rect x="1999" y="954.9" width="2.6" height="38" fill="#1838D0"/>
<rect x="2032" y="888.9" width="2.6" height="36" fill="#1838D0"/><rect x="2032" y="954.9" width="2.6" height="38" fill="#1838D0"/>
<rect x="2056" y="888.9" width="2.6" height="36" fill="#1838D0"/><rect x="2056" y="954.9" width="2.6" height="38" fill="#1838D0"/>
<rect x="2090" y="914.9" width="2.6" height="16" fill="#1838D0"/><rect x="2090" y="954.9" width="2.6" height="38" fill="#1838D0"/>
<path d="M2037,890.9 l0.6,3 l-1.5,3 l-0.3,3 l-1.1,3 l-0.9,3 l1.9,3 l1.2,3 l-0.8,3 l1.5,3 l-1.2,3 l-0.4,3 l1.4,3 l0.6,3 l-1.6,3 l2.0,3 l-1.1,3 l-1.0,3 l1.1,3 l-0.7,3 l-0.8,3 l-1.7,3 l-1.6,3 l0.3,3 l-1.0,3 l0.4,3 l-0.5,3 l-0.2,3 l1.8,3 l-0.1,3 l0.3,3 l1.5,3 l-1.3,3 l-1.4,3" fill="none" stroke="#40B840" stroke-width="0.7"/>
<path d="M2054,890.9 l1.6,3 l1.3,3 l-1.0,3 l-1.2,3 l1.0,3 l1.8,3 l-1.2,3 l1.8,3 l1.5,3 l0.4,3 l-0.3,3 l-1.6,3 l-1.8,3 l1.9,3 l-1.0,3 l0.8,3 l-1.0,3 l1.3,3 l0.4,3 l-0.8,3 l-1.3,3 l0.9,3 l-1.7,3 l-1.1,3 l0.2,3 l1.4,3 l0.5,3 l-0.9,3 l1.7,3 l-1.2,3 l-1.9,3 l-0.9,3 l-0.2,3" fill="none" stroke="#40B840" stroke-width="0.7"/>
<polygon points="2041.5,910.9 2043,898.9 2044.5,910.9" fill="#111"/><polygon points="2049.5,910.9 2051,898.9 2052.5,910.9" fill="#111"/>
<polygon points="2041.5,926.9 2043,914.9 2044.5,926.9" fill="#111"/><polygon points="2049.5,926.9 2051,914.9 2052.5,926.9" fill="#111"/>
<polygon points="2041.5,970.9 2043,958.9 2044.5,970.9" fill="#111"/><polygon points="2049.5,970.9 2051,958.9 2052.5,970.9" fill="#111"/>
<polygon points="2041.5,984.9 2043,972.9 2044.5,984.9" fill="#111"/><polygon points="2049.5,984.9 2051,972.9 2052.5,984.9" fill="#111"/>
<path d="M2000,914.9 L2092,910.9 M2000,930.9 L2092,926.9 M2000,974.9 L2092,970.9" stroke="#555" stroke-width="0.6"/><path d="M2002,932.9 H2032" stroke="#777" stroke-width="0.8"/><rect x="1996" y="937.9" width="44" height="2.4" fill="#888"/><rect x="1998" y="949.9" width="40" height="2" fill="#999"/><rect x="2058" y="949.9" width="34" height="2" fill="#999"/>
</g>
<g clip-path="url(#src2)"><rect x="1986" y="1027.5" width="124" height="124" fill="#fff"/>
<path d="M2008,1029.5 V1149.5" stroke="#444" stroke-width="0.9"/>
<path d="M2021,1029.5 V1149.5" stroke="#444" stroke-width="0.9"/>
<path d="M2034,1029.5 V1149.5" stroke="#444" stroke-width="0.9"/>
<path d="M2039,1029.5 V1149.5" stroke="#444" stroke-width="0.9" stroke-dasharray="2 1.5"/>
<path d="M2051,1029.5 V1149.5" stroke="#444" stroke-width="0.9"/>
<path d="M2063,1029.5 V1149.5" stroke="#444" stroke-width="0.9"/>
<path d="M2078,1029.5 V1149.5" stroke="#444" stroke-width="0.9"/>
<path d="M2083,1029.5 V1149.5" stroke="#444" stroke-width="0.9" stroke-dasharray="2 1.5"/>
<path d="M2092,1029.5 V1149.5" stroke="#444" stroke-width="0.9"/>
<path d="M2001,1059.5 L1996.6,1061.7 L1997.8,1063.9 L1999.7,1066.1 L2001.7,1068.3 L1997.3,1070.5 L1999.6,1072.7 L2004.9,1074.9 L2005.8,1077.1 L2002.6,1079.3 L2002.9,1081.5 L2001.8,1083.7 L1997.4,1085.9 L1996.4,1088.1 L1996.2,1090.3 L2005.1,1092.5 L2003.0,1094.7 L2005.6,1096.9 L1996.2,1099.1 L2002.4,1101.3 L2000.8,1103.5 L2003.3,1105.7 L1999.2,1107.9 L2006.0,1110.1 L1996.8,1112.3 L2001.5,1114.5 L2003.4,1116.7 L2005.0,1118.9 L2003.4,1121.1 L2003.0,1123.3 L2003.9,1125.5 L2005.2,1127.7 L1999.5,1129.9" fill="none" stroke="#111" stroke-width="1.1" stroke-linejoin="round"/>
<path d="M2014,1049.5 L2016.2,1051.7 L2018.8,1053.9 L2018.5,1056.1 L2013.0,1058.3 L2017.5,1060.5 L2018.4,1062.7 L2014.9,1064.9 L2015.5,1067.1 L2012.6,1069.3 L2015.0,1071.5 L2015.3,1073.7 L2009.0,1075.9 L2015.7,1078.1 L2019.9,1080.3 L2018.6,1082.5 L2016.7,1084.7 L2012.7,1086.9 L2016.8,1089.1 L2015.0,1091.3 L2013.3,1093.5 L2018.1,1095.7 L2009.0,1097.9 L2017.0,1100.1 L2008.4,1102.3 L2015.2,1104.5 L2013.8,1106.7 L2010.8,1108.9 L2016.4,1111.1 L2014.0,1113.3 L2015.4,1115.5 L2019.0,1117.7 L2011.1,1119.9 L2008.1,1122.1 L2011.6,1124.3 L2016.1,1126.5 L2010.4,1128.7 L2010.0,1130.9 L2018.9,1133.1 L2015.9,1135.3 L2013.3,1137.5 L2018.7,1139.7" fill="none" stroke="#111" stroke-width="1.1" stroke-linejoin="round"/>
<path d="M2045,1034.5 L2043.3,1036.7 L2046.7,1038.9 L2042.0,1041.1 L2044.3,1043.3 L2048.1,1045.5 L2049.1,1047.7 L2048.8,1049.9 L2043.8,1052.1 L2045.8,1054.3 L2043.2,1056.5 L2041.4,1058.7 L2045.0,1060.9 L2048.4,1063.1 L2048.5,1065.3 L2047.1,1067.5 L2049.5,1069.7 L2042.8,1071.9 L2041.7,1074.1 L2044.5,1076.3 L2042.8,1078.5 L2042.1,1080.7 L2044.1,1082.9 L2046.3,1085.1 L2044.9,1087.3 L2043.2,1089.5 L2048.4,1091.7 L2049.8,1093.9 L2044.5,1096.1 L2040.7,1098.3 L2040.3,1100.5 L2048.7,1102.7 L2040.4,1104.9 L2047.1,1107.1 L2045.7,1109.3 L2043.1,1111.5 L2047.9,1113.7 L2040.2,1115.9 L2041.4,1118.1 L2044.5,1120.3 L2040.2,1122.5 L2048.3,1124.7 L2042.4,1126.9 L2041.4,1129.1 L2040.5,1131.3 L2046.3,1133.5 L2044.5,1135.7 L2046.3,1137.9 L2046.6,1140.1 L2048.1,1142.3 L2049.6,1144.5 L2046.8,1146.7 L2042.0,1148.9" fill="none" stroke="#111" stroke-width="1.1" stroke-linejoin="round"/>
<path d="M2057,1044.5 L2056.7,1046.7 L2053.1,1048.9 L2051.1,1051.1 L2056.7,1053.3 L2059.6,1055.5 L2053.1,1057.7 L2054.3,1059.9 L2055.1,1062.1 L2059.4,1064.3 L2057.2,1066.5 L2058.4,1068.7 L2060.1,1070.9 L2055.7,1073.1 L2060.5,1075.3 L2061.9,1077.5 L2052.0,1079.7 L2062.2,1081.9 L2059.7,1084.1 L2052.6,1086.3 L2056.4,1088.5 L2058.5,1090.7 L2061.9,1092.9 L2055.5,1095.1 L2057.8,1097.3 L2061.6,1099.5 L2060.6,1101.7 L2062.3,1103.9 L2056.6,1106.1 L2058.8,1108.3 L2053.5,1110.5 L2059.7,1112.7 L2060.8,1114.9 L2058.7,1117.1 L2059.6,1119.3 L2053.6,1121.5 L2061.8,1123.7 L2062.8,1125.9 L2062.7,1128.1 L2057.4,1130.3 L2060.5,1132.5 L2054.8,1134.7 L2061.9,1136.9 L2061.3,1139.1 L2055.2,1141.3 L2052.0,1143.5 L2056.3,1145.7 L2057.6,1147.9" fill="none" stroke="#111" stroke-width="1.1" stroke-linejoin="round"/>
<path d="M2086,1049.5 L2087.6,1051.7 L2085.9,1053.9 L2083.2,1056.1 L2087.9,1058.3 L2083.4,1060.5 L2087.8,1062.7 L2084.0,1064.9 L2085.0,1067.1 L2087.7,1069.3 L2083.8,1071.5 L2083.9,1073.7 L2086.1,1075.9 L2087.3,1078.1 L2088.0,1080.3 L2087.1,1082.5 L2088.7,1084.7 L2086.0,1086.9 L2088.7,1089.1 L2083.5,1091.3 L2084.3,1093.5 L2086.2,1095.7 L2084.7,1097.9 L2087.4,1100.1 L2086.8,1102.3 L2086.1,1104.5 L2088.1,1106.7 L2086.4,1108.9 L2084.9,1111.1 L2085.3,1113.3 L2088.1,1115.5 L2088.4,1117.7 L2084.2,1119.9 L2088.1,1122.1 L2088.8,1124.3 L2086.1,1126.5 L2086.4,1128.7 L2084.2,1130.9 L2086.2,1133.1 L2086.0,1135.3 L2086.6,1137.5 L2083.2,1139.7" fill="none" stroke="#111" stroke-width="1.1" stroke-linejoin="round"/>
<path d="M2098,1079.5 L2101.8,1081.7 L2098.1,1083.9 L2097.2,1086.1 L2100.4,1088.3 L2098.5,1090.5 L2097.9,1092.7 L2099.5,1094.9 L2094.5,1097.1 L2098.3,1099.3 L2097.3,1101.5 L2101.7,1103.7 L2101.4,1105.9 L2096.2,1108.1 L2097.8,1110.3 L2095.0,1112.5 L2097.5,1114.7 L2100.5,1116.9 L2101.2,1119.1 L2097.8,1121.3" fill="none" stroke="#111" stroke-width="1.1" stroke-linejoin="round"/>
<path d="M2021,1040.5 H2075" stroke="#2222E0" stroke-width="1.6"/>
<path d="M1990,1074.5 L2020,1073.5 L2032,1076.5 L2110,1077.0" fill="none" stroke="#18E040" stroke-width="2.6"/>
<path d="M1990,1100.0 L2020,1100.0 L2034,1102.0 L2060,1102.0 L2072,1098.5 L2110,1098.0" fill="none" stroke="#E8E818" stroke-width="2"/>
<path d="M1990,1121.5 L2020,1121.5 L2034,1119.0 L2110,1117.5" fill="none" stroke="#F02020" stroke-width="2"/>
<path d="M2014,1137.5 L2026,1130.5 L2060,1130.5 L2070,1136.5" fill="none" stroke="#FF30C0" stroke-width="2"/>
</g>
<circle cx="2048" cy="791.4" r="56.3" fill="none" stroke="#2273B5" stroke-width="4.6"/>
<circle cx="2048" cy="940.9" r="56.3" fill="none" stroke="#2273B5" stroke-width="4.6"/>
<circle cx="2048" cy="1089.5" r="56.3" fill="none" stroke="#2273B5" stroke-width="4.6"/>
<g transform="translate(1910,220) scale(0.17495)">
<defs>
<linearGradient id="mfL" x1="0" y1="0" x2="1" y2="0"><stop offset="0" stop-color="#E8E8E8"/><stop offset="0.5" stop-color="#C4C4C4"/><stop offset="1" stop-color="#F4F4F4"/></linearGradient>
<linearGradient id="mfT" x1="0" y1="0" x2="0" y2="1"><stop offset="0" stop-color="#F0F0F0"/><stop offset="0.6" stop-color="#D8D8D8"/><stop offset="1" stop-color="#FAFAFA"/></linearGradient>
<linearGradient id="mfB" x1="0" y1="0" x2="0" y2="1"><stop offset="0" stop-color="#F4F4F4"/><stop offset="0.4" stop-color="#A8A8A8"/><stop offset="1" stop-color="#7C7C7C"/></linearGradient>
<linearGradient id="mfR" x1="0" y1="0" x2="1" y2="0"><stop offset="0" stop-color="#F4F4F4"/><stop offset="0.5" stop-color="#A0A0A0"/><stop offset="1" stop-color="#787878"/></linearGradient>
<linearGradient id="mLeg" x1="0" y1="0" x2="0" y2="1"><stop offset="0" stop-color="#F01010"/><stop offset="0.3" stop-color="#FF9018"/><stop offset="0.6" stop-color="#FFE020"/><stop offset="1" stop-color="#FFFF20"/></linearGradient>
<clipPath id="mClip"><polygon points="755,240 930,405 1110,560 1140,600 1170,690 940,900 760,1060 580,1190 470,1195 215,825 245,560 350,485 560,345"/></clipPath>
<filter id="mBl" x="-10%" y="-10%" width="120%" height="120%"><feGaussianBlur stdDeviation="5"/></filter>
</defs>
<rect x="45" y="42" width="1227" height="1520" fill="#fff"/>
<polygon points="45,42 1272,42 1238,78 82,78" fill="url(#mfT)"/>
<polygon points="45,42 82,78 82,1525 45,1562" fill="url(#mfL)"/>
<polygon points="45,1562 82,1525 1238,1525 1272,1562" fill="url(#mfB)"/>
<polygon points="1272,42 1272,1562 1238,1525 1238,78" fill="url(#mfR)"/>
<rect x="45" y="42" width="1227" height="1520" fill="none" stroke="#A8A8A8" stroke-width="4"/>
<text x="445" y="108" font-size="60" fill="#444" font-family="Liberation Sans,sans-serif" textLength="435" lengthAdjust="spacingAndGlyphs">Mapa de Espesor C</text>
<rect x="125" y="170" width="1070" height="1215" fill="#fff" stroke="#111" stroke-width="7"/>
<!-- axis labels -->
<g fill="#555" opacity="0.75"><rect x="205" y="142" width="55" height="16"/><rect x="308" y="142" width="55" height="16"/><rect x="412" y="142" width="55" height="16"/><rect x="516" y="142" width="55" height="16"/><rect x="622" y="142" width="55" height="16"/><rect x="726" y="142" width="55" height="16"/><rect x="830" y="142" width="55" height="16"/><rect x="934" y="142" width="55" height="16"/><rect x="1038" y="142" width="55" height="16"/><rect x="1142" y="142" width="55" height="16"/>
<rect x="205" y="1396" width="55" height="16"/><rect x="308" y="1396" width="55" height="16"/><rect x="412" y="1396" width="55" height="16"/><rect x="516" y="1396" width="55" height="16"/><rect x="622" y="1396" width="55" height="16"/><rect x="726" y="1396" width="55" height="16"/><rect x="830" y="1396" width="55" height="16"/><rect x="934" y="1396" width="55" height="16"/><rect x="1038" y="1396" width="55" height="16"/><rect x="1142" y="1396" width="55" height="16"/>
<rect x="92" y="225" width="15" height="62"/><rect x="92" y="340" width="15" height="62"/><rect x="92" y="455" width="15" height="62"/><rect x="92" y="568" width="15" height="62"/><rect x="92" y="682" width="15" height="62"/><rect x="92" y="795" width="15" height="62"/><rect x="92" y="908" width="15" height="62"/><rect x="92" y="1022" width="15" height="62"/><rect x="92" y="1135" width="15" height="62"/><rect x="92" y="1248" width="15" height="62"/>
<rect x="1208" y="225" width="15" height="62"/><rect x="1208" y="340" width="15" height="62"/><rect x="1208" y="455" width="15" height="62"/><rect x="1208" y="568" width="15" height="62"/><rect x="1208" y="682" width="15" height="62"/><rect x="1208" y="795" width="15" height="62"/><rect x="1208" y="908" width="15" height="62"/><rect x="1208" y="1022" width="15" height="62"/><rect x="1208" y="1135" width="15" height="62"/><rect x="1208" y="1248" width="15" height="62"/></g>
<g stroke="#111" stroke-width="4"><path d="M125,1385 v12 M230,1385 v10 M335,1385 v10 M440,1385 v10 M545,1385 v10 M650,1385 v10 M755,1385 v10 M860,1385 v10 M965,1385 v10 M1070,1385 v10 M1175,1385 v10"/><path d="M125,260 h10 M125,372 h10 M125,486 h10 M125,600 h10 M125,712 h10 M125,826 h10 M125,940 h10 M125,1052 h10 M125,1166 h10 M125,1280 h10"/></g>
<!-- map body -->
<g clip-path="url(#mClip)">
<rect x="200" y="230" width="1000" height="980" fill="#FFFF22"/>
<g fill="#FFD01E" stroke="#3A2A00" stroke-width="4">
<path d="M415,680 C440,600 520,560 600,570 C650,600 680,620 720,580 C760,540 800,560 820,620 C880,600 880,520 900,440 L880,380 L930,405 L1110,565 C1060,600 1020,650 960,700 C900,720 860,740 820,700 C780,760 720,800 680,780 C640,720 560,720 520,680 C480,720 440,700 415,680 Z"/>
<path d="M700,860 C760,800 840,810 880,850 C900,900 880,940 900,960 L760,1070 C720,1020 720,960 700,920 Z"/>
<path d="M395,820 C420,780 470,770 500,800 C520,850 480,880 500,920 C520,950 500,960 490,950 C470,900 420,870 395,820 Z"/>
<path d="M450,1130 C470,1060 500,1010 560,1010 C620,980 700,1000 760,1060 L580,1195 L470,1200 Z"/>
<path d="M350,490 L470,420 C500,440 500,470 480,500 C440,540 420,560 440,600 C400,580 360,540 350,490 Z"/>
<path d="M240,580 C270,590 280,620 260,660 L230,690 Z"/>
</g>
<g fill="#FFFF22" stroke="#3A2A00" stroke-width="4"><path d="M770,430 C800,390 860,400 880,440 C870,490 860,520 840,525 C800,510 760,500 760,470 Z"/><path d="M520,730 C560,720 620,760 640,790 C630,830 590,830 560,800 C530,780 510,760 520,730 Z"/><path d="M300,560 C320,510 380,520 400,580 C420,630 380,660 340,640 C320,620 300,600 300,560 Z"/><path d="M548,880 C560,850 600,840 608,870 C604,900 580,920 560,915 Z"/><ellipse cx="298" cy="688" rx="16" ry="20"/><ellipse cx="352" cy="775" rx="12" ry="10"/><ellipse cx="845" cy="760" rx="16" ry="14"/><ellipse cx="668" cy="965" rx="14" ry="12"/><ellipse cx="558" cy="975" rx="22" ry="20"/><ellipse cx="605" cy="1045" rx="14" ry="24"/><circle cx="657" cy="352" r="16" stroke-width="6"/></g>
<g fill="none" stroke="#3A2A00" stroke-width="4"><path d="M600,340 C590,380 600,440 560,500 C600,540 650,500 660,440 C700,420 720,400 700,330"/><path d="M760,300 C740,360 760,400 800,370 C840,360 880,380 900,440"/><path d="M310,940 C360,900 420,920 440,960 C440,1020 400,1060 380,1100"/><path d="M940,900 C940,840 980,820 1020,790 C1040,720 1040,660 1080,640 C1100,610 1120,600 1140,600"/><path d="M1100,760 C1090,700 1110,660 1150,640"/></g>
<g filter="url(#mBl)"><path d="M930,410 L1100,560 C1040,590 960,590 930,560 C910,500 920,450 930,410 Z" fill="#FF9A18"/><path d="M960,450 L1060,530 C1020,545 980,540 960,520 Z" fill="#F02010"/><path d="M820,300 L900,380 C870,390 830,370 815,340 Z" fill="#FF9A18"/><path d="M620,1020 C680,1000 740,1020 780,1040 L640,1140 C620,1100 600,1060 620,1020 Z" fill="#FF9A18"/><path d="M660,1050 C700,1040 730,1060 745,1075 L660,1130 Z" fill="#F24A10"/><path d="M540,1160 C580,1120 620,1110 650,1130 L585,1195 L520,1195 Z" fill="#FF9A18"/></g>
<g fill="none" stroke="#3A2A00" stroke-width="3"><path d="M925,420 C905,500 920,560 960,590 C1020,600 1080,580 1110,565"/><path d="M945,450 C940,500 960,540 1000,545 C1030,545 1050,540 1065,530"/><path d="M815,300 C810,340 840,380 905,385"/><path d="M610,1020 C680,985 760,1010 785,1040"/><path d="M650,1045 C640,1080 650,1110 665,1125"/></g>
</g>
<polygon points="755,240 930,405 1110,560 1140,600 1170,690 940,900 760,1060 580,1190 470,1195 215,825 245,560 350,485 560,345" fill="none" stroke="#30E4F4" stroke-width="6"/>
<!-- legend -->
<rect x="1005" y="1062" width="130" height="240" fill="#fff" stroke="#222" stroke-width="5"/>
<rect x="1020" y="1112" width="46" height="168" fill="url(#mLeg)" stroke="#333" stroke-width="3"/>
<rect x="1018" y="1076" width="100" height="10" fill="#888"/>
<g fill="#555"><rect x="1082" y="1120" width="14" height="26"/><rect x="1082" y="1152" width="14" height="26"/><rect x="1082" y="1186" width="14" height="26"/><rect x="1082" y="1220" width="14" height="26"/><rect x="1082" y="1254" width="14" height="22"/></g>
<!-- scale bar -->
<rect x="495" y="1472" width="330" height="18" fill="#111"/><rect x="560" y="1476" width="80" height="10" fill="#fff"/><rect x="700" y="1476" width="60" height="10" fill="#fff"/>
<g fill="#333"><rect x="498" y="1444" width="10" height="16"/><rect x="545" y="1444" width="30" height="16"/><rect x="618" y="1444" width="24" height="16"/><rect x="680" y="1444" width="24" height="16"/><rect x="742" y="1444" width="34" height="16"/><rect x="812" y="1444" width="40" height="16"/><rect x="630" y="1504" width="62" height="14"/></g>
</g>

<text x="1254.6" y="1256.5" font-size="24.4" font-weight="normal" fill="#000" textLength="416.7" lengthAdjust="spacingAndGlyphs">Secuencias de tercer orden: unidad</text>
<text x="1254.6" y="1291.5" font-size="24.4" font-weight="normal" fill="#000" textLength="497.7" lengthAdjust="spacingAndGlyphs">fundamental de la estratigrafía que refleja</text>
<text x="1254.6" y="1326.5" font-size="24.4" font-weight="normal" fill="#000" textLength="411.7" lengthAdjust="spacingAndGlyphs">un ciclo completo del nivel del mar</text>
<text x="1254.6" y="1374.5" font-size="24.4" font-weight="normal" fill="#000" textLength="522.7" lengthAdjust="spacingAndGlyphs">Los patrones de apilamiento son arreglos de</text>
<text x="1254.6" y="1410.0" font-size="24.4" font-weight="normal" fill="#000" textLength="356.2" lengthAdjust="spacingAndGlyphs">estratos que definen procesos</text>
<text x="1254.6" y="1445.0" font-size="24.4" font-weight="normal" fill="#000" textLength="167.7" lengthAdjust="spacingAndGlyphs">sedimentarios</text>
<text x="1254.6" y="1491.5" font-size="24.4" font-weight="normal" fill="#000" textLength="497.7" lengthAdjust="spacingAndGlyphs">Sistemas encadenados: describen eventos</text>
<text x="1254.6" y="1526.5" font-size="24.4" font-weight="normal" fill="#000" textLength="465.7" lengthAdjust="spacingAndGlyphs">transgresivos y regresivos identificando</text>
<text x="1254.6" y="1561.5" font-size="24.4" font-weight="normal" fill="#000" textLength="198.7" lengthAdjust="spacingAndGlyphs">rocas yacimiento</text>
<circle cx="1228.5" cy="1247.0" r="3.4" fill="#000"/>
<circle cx="1228.5" cy="1365.0" r="3.4" fill="#000"/>
<circle cx="1228.5" cy="1482.0" r="3.4" fill="#000"/>
</svg></body></html>
